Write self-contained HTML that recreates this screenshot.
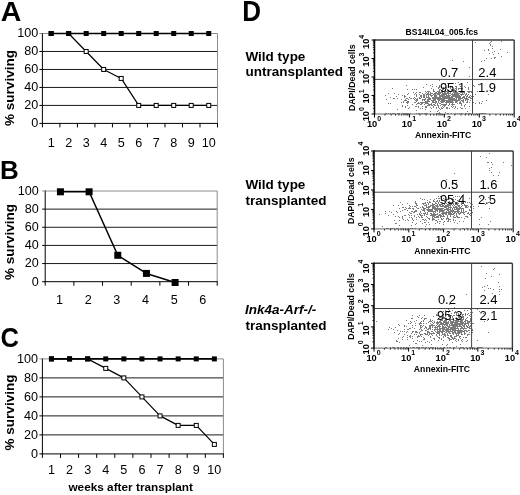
<!DOCTYPE html>
<html><head><meta charset="utf-8"><style>
html,body{margin:0;padding:0;background:#fff;}
body{width:520px;height:495px;overflow:hidden;}
svg{display:block;font-family:"Liberation Sans", sans-serif;filter:blur(0.3px);}
</style></head><body>
<svg width="520" height="495" viewBox="0 0 520 495" font-family='"Liberation Sans", sans-serif'>
<rect width="520" height="495" fill="#fff"/>
<text transform="translate(0.71,21.32) scale(1.098,1.073)" font-size="26" font-weight="bold">A</text>
<text transform="translate(0.06,179.00) scale(1.000,1.017)" font-size="26" font-weight="bold">B</text>
<text transform="translate(0.57,347.20) scale(0.985,1.082)" font-size="26" font-weight="bold">C</text>
<text transform="translate(242.20,21.03) scale(1.000,1.113)" font-size="26" font-weight="bold">D</text>
<line x1="42.40" y1="105.42" x2="217.50" y2="105.42" stroke="#1a1a1a" stroke-width="1" />
<line x1="42.40" y1="87.44" x2="217.50" y2="87.44" stroke="#1a1a1a" stroke-width="1" />
<line x1="42.40" y1="69.46" x2="217.50" y2="69.46" stroke="#1a1a1a" stroke-width="1" />
<line x1="42.40" y1="51.48" x2="217.50" y2="51.48" stroke="#1a1a1a" stroke-width="1" />
<line x1="42.40" y1="33.50" x2="217.50" y2="33.50" stroke="#8c8c8c" stroke-width="1" />
<line x1="217.50" y1="33.50" x2="217.50" y2="123.40" stroke="#8c8c8c" stroke-width="1" />
<line x1="42.40" y1="33.00" x2="42.40" y2="123.90" stroke="#000" stroke-width="1" />
<line x1="39.40" y1="123.40" x2="42.40" y2="123.40" stroke="#000" stroke-width="1" />
<text x="38.20" y="127.30" font-size="12.6" font-weight="normal" font-style="normal" text-anchor="end" fill="#000" >0</text>
<line x1="39.40" y1="105.42" x2="42.40" y2="105.42" stroke="#000" stroke-width="1" />
<text x="38.20" y="109.32" font-size="12.6" font-weight="normal" font-style="normal" text-anchor="end" fill="#000" >20</text>
<line x1="39.40" y1="87.44" x2="42.40" y2="87.44" stroke="#000" stroke-width="1" />
<text x="38.20" y="91.34" font-size="12.6" font-weight="normal" font-style="normal" text-anchor="end" fill="#000" >40</text>
<line x1="39.40" y1="69.46" x2="42.40" y2="69.46" stroke="#000" stroke-width="1" />
<text x="38.20" y="73.36" font-size="12.6" font-weight="normal" font-style="normal" text-anchor="end" fill="#000" >60</text>
<line x1="39.40" y1="51.48" x2="42.40" y2="51.48" stroke="#000" stroke-width="1" />
<text x="38.20" y="55.38" font-size="12.6" font-weight="normal" font-style="normal" text-anchor="end" fill="#000" >80</text>
<line x1="39.40" y1="33.50" x2="42.40" y2="33.50" stroke="#8c8c8c" stroke-width="1" />
<text x="38.20" y="37.40" font-size="12.6" font-weight="normal" font-style="normal" text-anchor="end" fill="#000" >100</text>
<line x1="41.90" y1="123.40" x2="218.00" y2="123.40" stroke="#000" stroke-width="1" />
<line x1="42.40" y1="123.40" x2="42.40" y2="127.40" stroke="#000" stroke-width="1" />
<line x1="59.91" y1="123.40" x2="59.91" y2="127.40" stroke="#000" stroke-width="1" />
<line x1="77.42" y1="123.40" x2="77.42" y2="127.40" stroke="#000" stroke-width="1" />
<line x1="94.93" y1="123.40" x2="94.93" y2="127.40" stroke="#000" stroke-width="1" />
<line x1="112.44" y1="123.40" x2="112.44" y2="127.40" stroke="#000" stroke-width="1" />
<line x1="129.95" y1="123.40" x2="129.95" y2="127.40" stroke="#000" stroke-width="1" />
<line x1="147.46" y1="123.40" x2="147.46" y2="127.40" stroke="#000" stroke-width="1" />
<line x1="164.97" y1="123.40" x2="164.97" y2="127.40" stroke="#000" stroke-width="1" />
<line x1="182.48" y1="123.40" x2="182.48" y2="127.40" stroke="#000" stroke-width="1" />
<line x1="199.99" y1="123.40" x2="199.99" y2="127.40" stroke="#000" stroke-width="1" />
<line x1="217.50" y1="123.40" x2="217.50" y2="127.40" stroke="#000" stroke-width="1" />
<text x="51.16" y="146.70" font-size="12.6" font-weight="normal" font-style="normal" text-anchor="middle" fill="#000" >1</text>
<text x="68.66" y="146.70" font-size="12.6" font-weight="normal" font-style="normal" text-anchor="middle" fill="#000" >2</text>
<text x="86.17" y="146.70" font-size="12.6" font-weight="normal" font-style="normal" text-anchor="middle" fill="#000" >3</text>
<text x="103.69" y="146.70" font-size="12.6" font-weight="normal" font-style="normal" text-anchor="middle" fill="#000" >4</text>
<text x="121.19" y="146.70" font-size="12.6" font-weight="normal" font-style="normal" text-anchor="middle" fill="#000" >5</text>
<text x="138.70" y="146.70" font-size="12.6" font-weight="normal" font-style="normal" text-anchor="middle" fill="#000" >6</text>
<text x="156.21" y="146.70" font-size="12.6" font-weight="normal" font-style="normal" text-anchor="middle" fill="#000" >7</text>
<text x="173.72" y="146.70" font-size="12.6" font-weight="normal" font-style="normal" text-anchor="middle" fill="#000" >8</text>
<text x="191.23" y="146.70" font-size="12.6" font-weight="normal" font-style="normal" text-anchor="middle" fill="#000" >9</text>
<text x="208.74" y="146.70" font-size="12.6" font-weight="normal" font-style="normal" text-anchor="middle" fill="#000" >10</text>
<polyline points="51.16,33.50 68.66,33.50 86.17,51.48 103.69,69.46 121.19,78.45 138.70,105.42 156.21,105.42 173.72,105.42 191.23,105.42 208.74,105.42" fill="none" stroke="#000" stroke-width="1.2" stroke-linejoin="round"/>
<rect x="49.16" y="31.50" width="4" height="4" fill="#fff" stroke="#000" stroke-width="1"/>
<rect x="66.66" y="31.50" width="4" height="4" fill="#fff" stroke="#000" stroke-width="1"/>
<rect x="84.17" y="49.48" width="4" height="4" fill="#fff" stroke="#000" stroke-width="1"/>
<rect x="101.69" y="67.46" width="4" height="4" fill="#fff" stroke="#000" stroke-width="1"/>
<rect x="119.19" y="76.45" width="4" height="4" fill="#fff" stroke="#000" stroke-width="1"/>
<rect x="136.70" y="103.42" width="4" height="4" fill="#fff" stroke="#000" stroke-width="1"/>
<rect x="154.21" y="103.42" width="4" height="4" fill="#fff" stroke="#000" stroke-width="1"/>
<rect x="171.72" y="103.42" width="4" height="4" fill="#fff" stroke="#000" stroke-width="1"/>
<rect x="189.23" y="103.42" width="4" height="4" fill="#fff" stroke="#000" stroke-width="1"/>
<rect x="206.74" y="103.42" width="4" height="4" fill="#fff" stroke="#000" stroke-width="1"/>
<polyline points="51.16,33.50 68.66,33.50 86.17,33.50 103.69,33.50 121.19,33.50 138.70,33.50 156.21,33.50 173.72,33.50 191.23,33.50 208.74,33.50" fill="none" stroke="#000" stroke-width="1.6" stroke-linejoin="round"/>
<rect x="48.66" y="31.00" width="5" height="5" fill="#000"/>
<rect x="66.16" y="31.00" width="5" height="5" fill="#000"/>
<rect x="83.67" y="31.00" width="5" height="5" fill="#000"/>
<rect x="101.19" y="31.00" width="5" height="5" fill="#000"/>
<rect x="118.69" y="31.00" width="5" height="5" fill="#000"/>
<rect x="136.20" y="31.00" width="5" height="5" fill="#000"/>
<rect x="153.71" y="31.00" width="5" height="5" fill="#000"/>
<rect x="171.22" y="31.00" width="5" height="5" fill="#000"/>
<rect x="188.73" y="31.00" width="5" height="5" fill="#000"/>
<rect x="206.24" y="31.00" width="5" height="5" fill="#000"/>
<text transform="translate(13.8,88) rotate(-90)" font-size="13.5" font-weight="bold" text-anchor="middle">% surviving</text>
<line x1="45.20" y1="263.56" x2="217.20" y2="263.56" stroke="#1a1a1a" stroke-width="1" />
<line x1="45.20" y1="245.42" x2="217.20" y2="245.42" stroke="#1a1a1a" stroke-width="1" />
<line x1="45.20" y1="227.28" x2="217.20" y2="227.28" stroke="#1a1a1a" stroke-width="1" />
<line x1="45.20" y1="209.14" x2="217.20" y2="209.14" stroke="#1a1a1a" stroke-width="1" />
<line x1="45.20" y1="191.00" x2="217.20" y2="191.00" stroke="#8c8c8c" stroke-width="1" />
<line x1="217.20" y1="191.00" x2="217.20" y2="281.70" stroke="#8c8c8c" stroke-width="1" />
<line x1="45.20" y1="190.50" x2="45.20" y2="282.20" stroke="#000" stroke-width="1" />
<line x1="42.20" y1="281.70" x2="45.20" y2="281.70" stroke="#000" stroke-width="1" />
<text x="38.80" y="285.60" font-size="12.6" font-weight="normal" font-style="normal" text-anchor="end" fill="#000" >0</text>
<line x1="42.20" y1="263.56" x2="45.20" y2="263.56" stroke="#000" stroke-width="1" />
<text x="38.80" y="267.46" font-size="12.6" font-weight="normal" font-style="normal" text-anchor="end" fill="#000" >20</text>
<line x1="42.20" y1="245.42" x2="45.20" y2="245.42" stroke="#000" stroke-width="1" />
<text x="38.80" y="249.32" font-size="12.6" font-weight="normal" font-style="normal" text-anchor="end" fill="#000" >40</text>
<line x1="42.20" y1="227.28" x2="45.20" y2="227.28" stroke="#000" stroke-width="1" />
<text x="38.80" y="231.18" font-size="12.6" font-weight="normal" font-style="normal" text-anchor="end" fill="#000" >60</text>
<line x1="42.20" y1="209.14" x2="45.20" y2="209.14" stroke="#000" stroke-width="1" />
<text x="38.80" y="213.04" font-size="12.6" font-weight="normal" font-style="normal" text-anchor="end" fill="#000" >80</text>
<line x1="42.20" y1="191.00" x2="45.20" y2="191.00" stroke="#8c8c8c" stroke-width="1" />
<text x="38.80" y="194.90" font-size="12.6" font-weight="normal" font-style="normal" text-anchor="end" fill="#000" >100</text>
<line x1="44.70" y1="281.70" x2="217.70" y2="281.70" stroke="#000" stroke-width="1" />
<line x1="45.20" y1="281.70" x2="45.20" y2="285.70" stroke="#000" stroke-width="1" />
<line x1="73.87" y1="281.70" x2="73.87" y2="285.70" stroke="#000" stroke-width="1" />
<line x1="102.53" y1="281.70" x2="102.53" y2="285.70" stroke="#000" stroke-width="1" />
<line x1="131.20" y1="281.70" x2="131.20" y2="285.70" stroke="#000" stroke-width="1" />
<line x1="159.87" y1="281.70" x2="159.87" y2="285.70" stroke="#000" stroke-width="1" />
<line x1="188.53" y1="281.70" x2="188.53" y2="285.70" stroke="#000" stroke-width="1" />
<line x1="217.20" y1="281.70" x2="217.20" y2="285.70" stroke="#000" stroke-width="1" />
<text x="59.53" y="303.90" font-size="12.6" font-weight="normal" font-style="normal" text-anchor="middle" fill="#000" >1</text>
<text x="88.20" y="303.90" font-size="12.6" font-weight="normal" font-style="normal" text-anchor="middle" fill="#000" >2</text>
<text x="116.87" y="303.90" font-size="12.6" font-weight="normal" font-style="normal" text-anchor="middle" fill="#000" >3</text>
<text x="145.53" y="303.90" font-size="12.6" font-weight="normal" font-style="normal" text-anchor="middle" fill="#000" >4</text>
<text x="174.20" y="303.90" font-size="12.6" font-weight="normal" font-style="normal" text-anchor="middle" fill="#000" >5</text>
<text x="202.87" y="303.90" font-size="12.6" font-weight="normal" font-style="normal" text-anchor="middle" fill="#000" >6</text>
<polyline points="60.43,191.80 89.10,191.80 117.77,255.29 146.43,273.43 175.10,282.50" fill="none" stroke="#000" stroke-width="1.5" stroke-linejoin="round"/>
<rect x="56.93" y="188.30" width="7" height="7" fill="#000"/>
<rect x="85.60" y="188.30" width="7" height="7" fill="#000"/>
<rect x="114.27" y="251.79" width="7" height="7" fill="#000"/>
<rect x="142.93" y="269.93" width="7" height="7" fill="#000"/>
<rect x="171.60" y="279.00" width="7" height="7" fill="#000"/>
<text transform="translate(13.8,242) rotate(-90)" font-size="13.5" font-weight="bold" text-anchor="middle">% surviving</text>
<line x1="42.40" y1="434.90" x2="223.40" y2="434.90" stroke="#1a1a1a" stroke-width="1" />
<line x1="42.40" y1="415.90" x2="223.40" y2="415.90" stroke="#1a1a1a" stroke-width="1" />
<line x1="42.40" y1="396.90" x2="223.40" y2="396.90" stroke="#1a1a1a" stroke-width="1" />
<line x1="42.40" y1="377.90" x2="223.40" y2="377.90" stroke="#1a1a1a" stroke-width="1" />
<line x1="42.40" y1="358.90" x2="223.40" y2="358.90" stroke="#8c8c8c" stroke-width="1" />
<line x1="223.40" y1="358.90" x2="223.40" y2="453.90" stroke="#8c8c8c" stroke-width="1" />
<line x1="42.40" y1="358.40" x2="42.40" y2="454.40" stroke="#000" stroke-width="1" />
<line x1="39.40" y1="453.90" x2="42.40" y2="453.90" stroke="#000" stroke-width="1" />
<text x="37.90" y="457.80" font-size="12.6" font-weight="normal" font-style="normal" text-anchor="end" fill="#000" >0</text>
<line x1="39.40" y1="434.90" x2="42.40" y2="434.90" stroke="#000" stroke-width="1" />
<text x="37.90" y="438.80" font-size="12.6" font-weight="normal" font-style="normal" text-anchor="end" fill="#000" >20</text>
<line x1="39.40" y1="415.90" x2="42.40" y2="415.90" stroke="#000" stroke-width="1" />
<text x="37.90" y="419.80" font-size="12.6" font-weight="normal" font-style="normal" text-anchor="end" fill="#000" >40</text>
<line x1="39.40" y1="396.90" x2="42.40" y2="396.90" stroke="#000" stroke-width="1" />
<text x="37.90" y="400.80" font-size="12.6" font-weight="normal" font-style="normal" text-anchor="end" fill="#000" >60</text>
<line x1="39.40" y1="377.90" x2="42.40" y2="377.90" stroke="#000" stroke-width="1" />
<text x="37.90" y="381.80" font-size="12.6" font-weight="normal" font-style="normal" text-anchor="end" fill="#000" >80</text>
<line x1="39.40" y1="358.90" x2="42.40" y2="358.90" stroke="#8c8c8c" stroke-width="1" />
<text x="37.90" y="362.80" font-size="12.6" font-weight="normal" font-style="normal" text-anchor="end" fill="#000" >100</text>
<line x1="41.90" y1="453.90" x2="223.90" y2="453.90" stroke="#000" stroke-width="1" />
<line x1="42.40" y1="453.90" x2="42.40" y2="457.90" stroke="#000" stroke-width="1" />
<line x1="60.50" y1="453.90" x2="60.50" y2="457.90" stroke="#000" stroke-width="1" />
<line x1="78.60" y1="453.90" x2="78.60" y2="457.90" stroke="#000" stroke-width="1" />
<line x1="96.70" y1="453.90" x2="96.70" y2="457.90" stroke="#000" stroke-width="1" />
<line x1="114.80" y1="453.90" x2="114.80" y2="457.90" stroke="#000" stroke-width="1" />
<line x1="132.90" y1="453.90" x2="132.90" y2="457.90" stroke="#000" stroke-width="1" />
<line x1="151.00" y1="453.90" x2="151.00" y2="457.90" stroke="#000" stroke-width="1" />
<line x1="169.10" y1="453.90" x2="169.10" y2="457.90" stroke="#000" stroke-width="1" />
<line x1="187.20" y1="453.90" x2="187.20" y2="457.90" stroke="#000" stroke-width="1" />
<line x1="205.30" y1="453.90" x2="205.30" y2="457.90" stroke="#000" stroke-width="1" />
<line x1="223.40" y1="453.90" x2="223.40" y2="457.90" stroke="#000" stroke-width="1" />
<text x="51.45" y="474.00" font-size="12.6" font-weight="normal" font-style="normal" text-anchor="middle" fill="#000" >1</text>
<text x="69.55" y="474.00" font-size="12.6" font-weight="normal" font-style="normal" text-anchor="middle" fill="#000" >2</text>
<text x="87.65" y="474.00" font-size="12.6" font-weight="normal" font-style="normal" text-anchor="middle" fill="#000" >3</text>
<text x="105.75" y="474.00" font-size="12.6" font-weight="normal" font-style="normal" text-anchor="middle" fill="#000" >4</text>
<text x="123.85" y="474.00" font-size="12.6" font-weight="normal" font-style="normal" text-anchor="middle" fill="#000" >5</text>
<text x="141.95" y="474.00" font-size="12.6" font-weight="normal" font-style="normal" text-anchor="middle" fill="#000" >6</text>
<text x="160.05" y="474.00" font-size="12.6" font-weight="normal" font-style="normal" text-anchor="middle" fill="#000" >7</text>
<text x="178.15" y="474.00" font-size="12.6" font-weight="normal" font-style="normal" text-anchor="middle" fill="#000" >8</text>
<text x="196.25" y="474.00" font-size="12.6" font-weight="normal" font-style="normal" text-anchor="middle" fill="#000" >9</text>
<text x="214.35" y="474.00" font-size="12.6" font-weight="normal" font-style="normal" text-anchor="middle" fill="#000" >10</text>
<polyline points="51.45,358.90 69.55,358.90 87.65,358.90 105.75,368.40 123.85,377.90 141.95,396.90 160.05,415.90 178.15,425.40 196.25,425.40 214.35,444.40" fill="none" stroke="#000" stroke-width="1.2" stroke-linejoin="round"/>
<rect x="49.45" y="356.90" width="4" height="4" fill="#fff" stroke="#000" stroke-width="1"/>
<rect x="67.55" y="356.90" width="4" height="4" fill="#fff" stroke="#000" stroke-width="1"/>
<rect x="85.65" y="356.90" width="4" height="4" fill="#fff" stroke="#000" stroke-width="1"/>
<rect x="103.75" y="366.40" width="4" height="4" fill="#fff" stroke="#000" stroke-width="1"/>
<rect x="121.85" y="375.90" width="4" height="4" fill="#fff" stroke="#000" stroke-width="1"/>
<rect x="139.95" y="394.90" width="4" height="4" fill="#fff" stroke="#000" stroke-width="1"/>
<rect x="158.05" y="413.90" width="4" height="4" fill="#fff" stroke="#000" stroke-width="1"/>
<rect x="176.15" y="423.40" width="4" height="4" fill="#fff" stroke="#000" stroke-width="1"/>
<rect x="194.25" y="423.40" width="4" height="4" fill="#fff" stroke="#000" stroke-width="1"/>
<rect x="212.35" y="442.40" width="4" height="4" fill="#fff" stroke="#000" stroke-width="1"/>
<polyline points="51.45,358.90 69.55,358.90 87.65,358.90 105.75,358.90 123.85,358.90 141.95,358.90 160.05,358.90 178.15,358.90 196.25,358.90 214.35,358.90" fill="none" stroke="#000" stroke-width="1.6" stroke-linejoin="round"/>
<rect x="48.95" y="356.40" width="5" height="5" fill="#000"/>
<rect x="67.05" y="356.40" width="5" height="5" fill="#000"/>
<rect x="85.15" y="356.40" width="5" height="5" fill="#000"/>
<rect x="103.25" y="356.40" width="5" height="5" fill="#000"/>
<rect x="121.35" y="356.40" width="5" height="5" fill="#000"/>
<rect x="139.45" y="356.40" width="5" height="5" fill="#000"/>
<rect x="157.55" y="356.40" width="5" height="5" fill="#000"/>
<rect x="175.65" y="356.40" width="5" height="5" fill="#000"/>
<rect x="193.75" y="356.40" width="5" height="5" fill="#000"/>
<rect x="211.85" y="356.40" width="5" height="5" fill="#000"/>
<text transform="translate(13.8,412.5) rotate(-90)" font-size="13.5" font-weight="bold" text-anchor="middle">% surviving</text>
<text x="130.70" y="490.60" font-size="11.8" font-weight="bold" font-style="normal" text-anchor="middle" fill="#000" >weeks after transplant</text>
<text x="245.50" y="61.20" font-size="13.5" font-weight="bold" font-style="normal" text-anchor="start" fill="#000" >Wild type</text>
<text x="245.50" y="76.00" font-size="13.5" font-weight="bold" font-style="normal" text-anchor="start" fill="#000" >untransplanted</text>
<text x="245.50" y="189.20" font-size="13.5" font-weight="bold" font-style="normal" text-anchor="start" fill="#000" >Wild type</text>
<text x="245.50" y="205.00" font-size="13.5" font-weight="bold" font-style="normal" text-anchor="start" fill="#000" >transplanted</text>
<text x="245.00" y="314.00" font-size="13.5" font-weight="bold" font-style="italic" text-anchor="start" fill="#000" >Ink4a-Arf-/-</text>
<text x="245.50" y="329.90" font-size="13.5" font-weight="bold" font-style="normal" text-anchor="start" fill="#000" >transplanted</text>
<path d="M385 95h1v1h-1zM385 113h1v1h-1zM386 99h1v1h-1zM386 113h1v1h-1zM388 93h1v1h-1zM388 103h1v1h-1zM388 113h1v1h-1zM390 97h1v1h-1zM390 103h1v1h-1zM390 113h1v1h-1zM392 88h1v1h-1zM392 113h1v1h-1zM393 98h1v1h-1zM393 113h1v1h-1zM394 93h1v1h-1zM394 98h1v1h-1zM394 113h1v1h-1zM396 96h1v1h-1zM397 98h1v1h-1zM397 109h1v1h-1zM397 113h1v1h-1zM398 94h1v1h-1zM398 113h1v1h-1zM399 113h1v1h-1zM401 99h1v1h-1zM401 102h1v1h-1zM402 95h1v1h-1zM402 105h1v1h-1zM402 106h1v1h-1zM402 113h1v1h-1zM403 101h1v1h-1zM403 102h1v1h-1zM403 113h1v1h-1zM404 95h1v1h-1zM404 96h1v1h-1zM404 97h1v1h-1zM404 100h1v1h-1zM404 113h1v1h-1zM405 96h1v1h-1zM405 99h1v1h-1zM405 100h1v1h-1zM405 106h1v1h-1zM405 107h1v1h-1zM405 113h1v1h-1zM406 85h1v1h-1zM406 98h1v1h-1zM406 100h1v1h-1zM406 102h1v1h-1zM406 113h1v1h-1zM407 89h1v1h-1zM407 94h1v1h-1zM407 98h1v1h-1zM407 101h1v1h-1zM407 102h1v1h-1zM407 103h1v1h-1zM407 105h1v1h-1zM407 113h1v1h-1zM408 93h1v1h-1zM408 99h1v1h-1zM408 101h1v1h-1zM408 102h1v1h-1zM408 108h1v1h-1zM408 113h1v1h-1zM409 97h1v1h-1zM409 107h1v1h-1zM410 98h1v1h-1zM410 113h1v1h-1zM411 98h1v1h-1zM412 89h1v1h-1zM412 104h1v1h-1zM413 92h1v1h-1zM413 98h1v1h-1zM414 89h1v1h-1zM414 94h1v1h-1zM414 97h1v1h-1zM414 99h1v1h-1zM414 102h1v1h-1zM415 93h1v1h-1zM415 98h1v1h-1zM415 100h1v1h-1zM415 102h1v1h-1zM415 106h1v1h-1zM416 89h1v1h-1zM416 92h1v1h-1zM416 94h1v1h-1zM416 95h1v1h-1zM416 96h1v1h-1zM416 99h1v1h-1zM416 100h1v1h-1zM416 101h1v1h-1zM416 104h1v1h-1zM416 106h1v1h-1zM416 110h1v1h-1zM416 113h1v1h-1zM417 98h1v1h-1zM417 99h1v1h-1zM417 100h1v1h-1zM417 103h1v1h-1zM418 102h1v1h-1zM418 103h1v1h-1zM418 106h1v1h-1zM418 107h1v1h-1zM418 113h1v1h-1zM419 92h1v1h-1zM419 94h1v1h-1zM419 97h1v1h-1zM419 98h1v1h-1zM419 103h1v1h-1zM419 113h1v1h-1zM420 92h1v1h-1zM420 95h1v1h-1zM420 96h1v1h-1zM420 98h1v1h-1zM420 102h1v1h-1zM420 104h1v1h-1zM420 108h1v1h-1zM421 95h1v1h-1zM421 96h1v1h-1zM421 97h1v1h-1zM421 102h1v1h-1zM421 103h1v1h-1zM421 104h1v1h-1zM421 113h1v1h-1zM422 93h1v1h-1zM422 99h1v1h-1zM422 100h1v1h-1zM422 102h1v1h-1zM422 103h1v1h-1zM422 106h1v1h-1zM422 108h1v1h-1zM422 113h1v1h-1zM423 87h1v1h-1zM423 94h1v1h-1zM423 95h1v1h-1zM423 96h1v1h-1zM423 97h1v1h-1zM423 99h1v1h-1zM423 102h1v1h-1zM424 94h1v1h-1zM424 95h1v1h-1zM424 96h1v1h-1zM424 97h1v1h-1zM424 99h1v1h-1zM424 100h1v1h-1zM424 102h1v1h-1zM424 104h1v1h-1zM424 113h1v1h-1zM425 91h1v1h-1zM425 93h1v1h-1zM425 98h1v1h-1zM425 99h1v1h-1zM425 101h1v1h-1zM425 102h1v1h-1zM425 103h1v1h-1zM425 106h1v1h-1zM425 107h1v1h-1zM425 109h1v1h-1zM425 113h1v1h-1zM426 84h1v1h-1zM426 92h1v1h-1zM426 94h1v1h-1zM426 95h1v1h-1zM426 96h1v1h-1zM426 97h1v1h-1zM426 101h1v1h-1zM426 102h1v1h-1zM426 103h1v1h-1zM426 106h1v1h-1zM426 107h1v1h-1zM426 113h1v1h-1zM427 91h1v1h-1zM427 93h1v1h-1zM427 94h1v1h-1zM427 97h1v1h-1zM427 99h1v1h-1zM427 100h1v1h-1zM427 101h1v1h-1zM427 102h1v1h-1zM427 103h1v1h-1zM427 105h1v1h-1zM427 113h1v1h-1zM428 91h1v1h-1zM428 92h1v1h-1zM428 93h1v1h-1zM428 94h1v1h-1zM428 95h1v1h-1zM428 96h1v1h-1zM428 97h1v1h-1zM428 98h1v1h-1zM428 99h1v1h-1zM428 100h1v1h-1zM428 101h1v1h-1zM428 103h1v1h-1zM428 104h1v1h-1zM428 105h1v1h-1zM429 91h1v1h-1zM429 94h1v1h-1zM429 97h1v1h-1zM429 98h1v1h-1zM429 99h1v1h-1zM429 101h1v1h-1zM429 104h1v1h-1zM429 105h1v1h-1zM430 85h1v1h-1zM430 92h1v1h-1zM430 93h1v1h-1zM430 94h1v1h-1zM430 95h1v1h-1zM430 98h1v1h-1zM430 99h1v1h-1zM430 104h1v1h-1zM430 107h1v1h-1zM430 111h1v1h-1zM431 88h1v1h-1zM431 93h1v1h-1zM431 95h1v1h-1zM431 96h1v1h-1zM431 100h1v1h-1zM431 103h1v1h-1zM431 104h1v1h-1zM431 105h1v1h-1zM431 108h1v1h-1zM432 84h1v1h-1zM432 86h1v1h-1zM432 93h1v1h-1zM432 95h1v1h-1zM432 97h1v1h-1zM432 98h1v1h-1zM432 100h1v1h-1zM432 101h1v1h-1zM432 102h1v1h-1zM432 105h1v1h-1zM433 89h1v1h-1zM433 90h1v1h-1zM433 91h1v1h-1zM433 94h1v1h-1zM433 97h1v1h-1zM433 98h1v1h-1zM433 99h1v1h-1zM433 100h1v1h-1zM433 101h1v1h-1zM433 102h1v1h-1zM433 104h1v1h-1zM433 106h1v1h-1zM433 107h1v1h-1zM434 91h1v1h-1zM434 93h1v1h-1zM434 94h1v1h-1zM434 95h1v1h-1zM434 96h1v1h-1zM434 97h1v1h-1zM434 98h1v1h-1zM434 99h1v1h-1zM434 100h1v1h-1zM434 102h1v1h-1zM434 104h1v1h-1zM434 105h1v1h-1zM435 92h1v1h-1zM435 93h1v1h-1zM435 94h1v1h-1zM435 95h1v1h-1zM435 96h1v1h-1zM435 97h1v1h-1zM435 98h1v1h-1zM435 99h1v1h-1zM435 100h1v1h-1zM435 101h1v1h-1zM435 102h1v1h-1zM435 103h1v1h-1zM435 105h1v1h-1zM436 86h1v1h-1zM436 92h1v1h-1zM436 93h1v1h-1zM436 95h1v1h-1zM436 96h1v1h-1zM436 97h1v1h-1zM436 98h1v1h-1zM436 101h1v1h-1zM436 102h1v1h-1zM436 107h1v1h-1zM436 108h1v1h-1zM436 113h1v1h-1zM437 91h1v1h-1zM437 93h1v1h-1zM437 94h1v1h-1zM437 97h1v1h-1zM437 98h1v1h-1zM437 99h1v1h-1zM437 103h1v1h-1zM437 104h1v1h-1zM437 105h1v1h-1zM437 111h1v1h-1zM437 113h1v1h-1zM438 87h1v1h-1zM438 88h1v1h-1zM438 91h1v1h-1zM438 92h1v1h-1zM438 93h1v1h-1zM438 94h1v1h-1zM438 97h1v1h-1zM438 98h1v1h-1zM438 99h1v1h-1zM438 100h1v1h-1zM438 101h1v1h-1zM438 102h1v1h-1zM438 105h1v1h-1zM438 106h1v1h-1zM438 107h1v1h-1zM438 110h1v1h-1zM438 113h1v1h-1zM439 80h1v1h-1zM439 85h1v1h-1zM439 86h1v1h-1zM439 87h1v1h-1zM439 89h1v1h-1zM439 90h1v1h-1zM439 91h1v1h-1zM439 92h1v1h-1zM439 93h1v1h-1zM439 94h1v1h-1zM439 95h1v1h-1zM439 96h1v1h-1zM439 97h1v1h-1zM439 98h1v1h-1zM439 99h1v1h-1zM439 100h1v1h-1zM439 103h1v1h-1zM439 108h1v1h-1zM439 112h1v1h-1zM439 113h1v1h-1zM440 89h1v1h-1zM440 92h1v1h-1zM440 93h1v1h-1zM440 95h1v1h-1zM440 96h1v1h-1zM440 97h1v1h-1zM440 98h1v1h-1zM440 99h1v1h-1zM440 101h1v1h-1zM440 103h1v1h-1zM440 105h1v1h-1zM440 109h1v1h-1zM440 113h1v1h-1zM441 86h1v1h-1zM441 87h1v1h-1zM441 90h1v1h-1zM441 91h1v1h-1zM441 92h1v1h-1zM441 94h1v1h-1zM441 95h1v1h-1zM441 96h1v1h-1zM441 98h1v1h-1zM441 99h1v1h-1zM441 100h1v1h-1zM441 101h1v1h-1zM441 102h1v1h-1zM441 104h1v1h-1zM441 107h1v1h-1zM441 108h1v1h-1zM442 89h1v1h-1zM442 90h1v1h-1zM442 91h1v1h-1zM442 92h1v1h-1zM442 93h1v1h-1zM442 94h1v1h-1zM442 95h1v1h-1zM442 96h1v1h-1zM442 97h1v1h-1zM442 98h1v1h-1zM442 99h1v1h-1zM442 100h1v1h-1zM442 101h1v1h-1zM442 102h1v1h-1zM442 104h1v1h-1zM442 106h1v1h-1zM442 108h1v1h-1zM443 87h1v1h-1zM443 88h1v1h-1zM443 89h1v1h-1zM443 91h1v1h-1zM443 93h1v1h-1zM443 94h1v1h-1zM443 95h1v1h-1zM443 96h1v1h-1zM443 97h1v1h-1zM443 98h1v1h-1zM443 99h1v1h-1zM443 100h1v1h-1zM443 101h1v1h-1zM443 102h1v1h-1zM443 104h1v1h-1zM443 105h1v1h-1zM443 107h1v1h-1zM444 88h1v1h-1zM444 91h1v1h-1zM444 92h1v1h-1zM444 93h1v1h-1zM444 94h1v1h-1zM444 95h1v1h-1zM444 96h1v1h-1zM444 97h1v1h-1zM444 98h1v1h-1zM444 99h1v1h-1zM444 100h1v1h-1zM444 101h1v1h-1zM444 104h1v1h-1zM444 105h1v1h-1zM444 106h1v1h-1zM445 83h1v1h-1zM445 89h1v1h-1zM445 90h1v1h-1zM445 91h1v1h-1zM445 92h1v1h-1zM445 93h1v1h-1zM445 94h1v1h-1zM445 96h1v1h-1zM445 97h1v1h-1zM445 98h1v1h-1zM445 100h1v1h-1zM445 102h1v1h-1zM445 104h1v1h-1zM445 105h1v1h-1zM445 112h1v1h-1zM446 91h1v1h-1zM446 93h1v1h-1zM446 94h1v1h-1zM446 95h1v1h-1zM446 96h1v1h-1zM446 97h1v1h-1zM446 98h1v1h-1zM446 100h1v1h-1zM446 101h1v1h-1zM446 102h1v1h-1zM446 103h1v1h-1zM446 104h1v1h-1zM446 107h1v1h-1zM446 108h1v1h-1zM447 83h1v1h-1zM447 89h1v1h-1zM447 90h1v1h-1zM447 91h1v1h-1zM447 92h1v1h-1zM447 93h1v1h-1zM447 95h1v1h-1zM447 96h1v1h-1zM447 97h1v1h-1zM447 98h1v1h-1zM447 100h1v1h-1zM447 101h1v1h-1zM447 102h1v1h-1zM447 107h1v1h-1zM447 108h1v1h-1zM447 113h1v1h-1zM448 87h1v1h-1zM448 90h1v1h-1zM448 91h1v1h-1zM448 92h1v1h-1zM448 93h1v1h-1zM448 94h1v1h-1zM448 95h1v1h-1zM448 96h1v1h-1zM448 97h1v1h-1zM448 98h1v1h-1zM448 99h1v1h-1zM448 100h1v1h-1zM448 101h1v1h-1zM448 102h1v1h-1zM448 105h1v1h-1zM448 113h1v1h-1zM449 91h1v1h-1zM449 93h1v1h-1zM449 95h1v1h-1zM449 96h1v1h-1zM449 97h1v1h-1zM449 98h1v1h-1zM449 99h1v1h-1zM449 100h1v1h-1zM449 101h1v1h-1zM449 102h1v1h-1zM449 103h1v1h-1zM449 104h1v1h-1zM449 108h1v1h-1zM450 87h1v1h-1zM450 88h1v1h-1zM450 91h1v1h-1zM450 92h1v1h-1zM450 93h1v1h-1zM450 95h1v1h-1zM450 97h1v1h-1zM450 98h1v1h-1zM450 99h1v1h-1zM450 100h1v1h-1zM450 101h1v1h-1zM450 102h1v1h-1zM451 89h1v1h-1zM451 90h1v1h-1zM451 91h1v1h-1zM451 94h1v1h-1zM451 96h1v1h-1zM451 97h1v1h-1zM451 98h1v1h-1zM451 99h1v1h-1zM451 100h1v1h-1zM451 101h1v1h-1zM451 102h1v1h-1zM451 104h1v1h-1zM451 106h1v1h-1zM451 113h1v1h-1zM452 60h1v1h-1zM452 86h1v1h-1zM452 89h1v1h-1zM452 90h1v1h-1zM452 93h1v1h-1zM452 94h1v1h-1zM452 95h1v1h-1zM452 96h1v1h-1zM452 97h1v1h-1zM452 98h1v1h-1zM452 99h1v1h-1zM452 100h1v1h-1zM452 101h1v1h-1zM452 102h1v1h-1zM452 103h1v1h-1zM452 104h1v1h-1zM452 105h1v1h-1zM452 107h1v1h-1zM453 83h1v1h-1zM453 90h1v1h-1zM453 91h1v1h-1zM453 92h1v1h-1zM453 94h1v1h-1zM453 95h1v1h-1zM453 96h1v1h-1zM453 98h1v1h-1zM453 99h1v1h-1zM453 100h1v1h-1zM453 102h1v1h-1zM453 104h1v1h-1zM453 106h1v1h-1zM454 68h1v1h-1zM454 89h1v1h-1zM454 90h1v1h-1zM454 91h1v1h-1zM454 92h1v1h-1zM454 93h1v1h-1zM454 94h1v1h-1zM454 95h1v1h-1zM454 96h1v1h-1zM454 98h1v1h-1zM454 99h1v1h-1zM454 100h1v1h-1zM454 104h1v1h-1zM454 108h1v1h-1zM455 83h1v1h-1zM455 86h1v1h-1zM455 88h1v1h-1zM455 90h1v1h-1zM455 91h1v1h-1zM455 92h1v1h-1zM455 93h1v1h-1zM455 94h1v1h-1zM455 95h1v1h-1zM455 96h1v1h-1zM455 97h1v1h-1zM455 99h1v1h-1zM455 100h1v1h-1zM455 101h1v1h-1zM455 102h1v1h-1zM455 106h1v1h-1zM455 107h1v1h-1zM455 113h1v1h-1zM456 69h1v1h-1zM456 86h1v1h-1zM456 87h1v1h-1zM456 88h1v1h-1zM456 89h1v1h-1zM456 92h1v1h-1zM456 93h1v1h-1zM456 94h1v1h-1zM456 95h1v1h-1zM456 96h1v1h-1zM456 97h1v1h-1zM456 98h1v1h-1zM456 99h1v1h-1zM456 100h1v1h-1zM456 101h1v1h-1zM456 102h1v1h-1zM457 92h1v1h-1zM457 93h1v1h-1zM457 94h1v1h-1zM457 95h1v1h-1zM457 96h1v1h-1zM457 97h1v1h-1zM457 100h1v1h-1zM457 101h1v1h-1zM457 103h1v1h-1zM457 108h1v1h-1zM457 113h1v1h-1zM458 82h1v1h-1zM458 88h1v1h-1zM458 89h1v1h-1zM458 91h1v1h-1zM458 93h1v1h-1zM458 94h1v1h-1zM458 95h1v1h-1zM458 96h1v1h-1zM458 97h1v1h-1zM458 98h1v1h-1zM458 99h1v1h-1zM458 100h1v1h-1zM459 88h1v1h-1zM459 93h1v1h-1zM459 95h1v1h-1zM459 96h1v1h-1zM459 97h1v1h-1zM459 98h1v1h-1zM459 99h1v1h-1zM459 100h1v1h-1zM459 102h1v1h-1zM459 103h1v1h-1zM459 113h1v1h-1zM460 86h1v1h-1zM460 88h1v1h-1zM460 92h1v1h-1zM460 94h1v1h-1zM460 96h1v1h-1zM460 97h1v1h-1zM460 98h1v1h-1zM460 99h1v1h-1zM460 101h1v1h-1zM460 102h1v1h-1zM460 103h1v1h-1zM460 107h1v1h-1zM461 88h1v1h-1zM461 89h1v1h-1zM461 92h1v1h-1zM461 94h1v1h-1zM461 95h1v1h-1zM461 98h1v1h-1zM461 100h1v1h-1zM461 103h1v1h-1zM461 104h1v1h-1zM461 105h1v1h-1zM461 108h1v1h-1zM461 113h1v1h-1zM462 88h1v1h-1zM462 92h1v1h-1zM462 93h1v1h-1zM462 94h1v1h-1zM462 97h1v1h-1zM462 98h1v1h-1zM462 100h1v1h-1zM462 101h1v1h-1zM462 108h1v1h-1zM462 113h1v1h-1zM463 61h1v1h-1zM463 91h1v1h-1zM463 92h1v1h-1zM463 94h1v1h-1zM463 96h1v1h-1zM463 97h1v1h-1zM463 99h1v1h-1zM463 100h1v1h-1zM463 101h1v1h-1zM463 102h1v1h-1zM464 86h1v1h-1zM464 91h1v1h-1zM464 92h1v1h-1zM464 93h1v1h-1zM464 96h1v1h-1zM464 97h1v1h-1zM464 98h1v1h-1zM464 105h1v1h-1zM464 106h1v1h-1zM465 87h1v1h-1zM465 94h1v1h-1zM465 95h1v1h-1zM465 98h1v1h-1zM465 99h1v1h-1zM465 100h1v1h-1zM465 104h1v1h-1zM465 108h1v1h-1zM465 113h1v1h-1zM466 93h1v1h-1zM466 94h1v1h-1zM466 96h1v1h-1zM466 97h1v1h-1zM466 98h1v1h-1zM466 99h1v1h-1zM466 102h1v1h-1zM466 113h1v1h-1zM467 82h1v1h-1zM467 91h1v1h-1zM467 95h1v1h-1zM467 96h1v1h-1zM467 98h1v1h-1zM467 99h1v1h-1zM467 100h1v1h-1zM467 101h1v1h-1zM467 102h1v1h-1zM467 111h1v1h-1zM468 87h1v1h-1zM468 88h1v1h-1zM468 89h1v1h-1zM468 91h1v1h-1zM468 92h1v1h-1zM468 94h1v1h-1zM468 97h1v1h-1zM468 99h1v1h-1zM468 113h1v1h-1zM469 67h1v1h-1zM469 76h1v1h-1zM469 91h1v1h-1zM469 92h1v1h-1zM469 96h1v1h-1zM469 97h1v1h-1zM469 102h1v1h-1zM469 106h1v1h-1zM469 113h1v1h-1zM470 91h1v1h-1zM470 95h1v1h-1zM470 97h1v1h-1zM470 98h1v1h-1zM470 100h1v1h-1zM470 113h1v1h-1zM471 91h1v1h-1zM471 92h1v1h-1zM471 96h1v1h-1zM471 98h1v1h-1zM472 92h1v1h-1zM472 97h1v1h-1zM472 98h1v1h-1zM472 102h1v1h-1zM473 85h1v1h-1zM473 96h1v1h-1zM473 102h1v1h-1zM474 86h1v1h-1zM475 42h1v1h-1zM475 94h1v1h-1zM475 103h1v1h-1zM476 113h1v1h-1zM477 91h1v1h-1zM478 84h1v1h-1zM479 102h1v1h-1zM479 103h1v1h-1zM479 113h1v1h-1zM480 113h1v1h-1zM481 61h1v1h-1zM481 103h1v1h-1zM481 113h1v1h-1zM482 101h1v1h-1zM482 113h1v1h-1zM483 113h1v1h-1zM484 50h1v1h-1zM484 60h1v1h-1zM484 113h1v1h-1zM485 113h1v1h-1zM486 58h1v1h-1zM486 100h1v1h-1zM488 49h1v1h-1zM488 50h1v1h-1zM488 94h1v1h-1zM489 43h1v1h-1zM489 53h1v1h-1zM490 42h1v1h-1zM490 44h1v1h-1zM490 45h1v1h-1zM491 41h1v1h-1zM491 58h1v1h-1zM492 46h1v1h-1zM492 48h1v1h-1zM492 52h1v1h-1zM493 54h1v1h-1zM494 51h1v1h-1zM494 57h1v1h-1zM494 58h1v1h-1zM495 57h1v1h-1zM498 53h1v1h-1zM500 49h1v1h-1zM501 41h1v1h-1zM501 56h1v1h-1zM507 52h1v1h-1z" fill="#7a7a7a"/>
<line x1="472.50" y1="40.00" x2="472.50" y2="114.00" stroke="#444" stroke-width="1" />
<line x1="374.50" y1="79.40" x2="514.20" y2="79.40" stroke="#444" stroke-width="1" />
<line x1="374.50" y1="114.00" x2="514.20" y2="114.00" stroke="#666" stroke-width="1" />
<line x1="374.50" y1="40.00" x2="514.20" y2="40.00" stroke="#3a3a3a" stroke-width="1.4" />
<line x1="514.20" y1="40.00" x2="514.20" y2="114.00" stroke="#3a3a3a" stroke-width="1.4" />
<line x1="374.50" y1="39.30" x2="374.50" y2="114.50" stroke="#000" stroke-width="1.5" />
<line x1="371.50" y1="114.00" x2="374.50" y2="114.00" stroke="#000" stroke-width="1" />
<line x1="374.50" y1="114.00" x2="374.50" y2="117.50" stroke="#000" stroke-width="1" />
<line x1="372.90" y1="108.43" x2="374.50" y2="108.43" stroke="#000" stroke-width="0.8" />
<line x1="385.01" y1="114.00" x2="385.01" y2="115.60" stroke="#000" stroke-width="0.8" />
<line x1="372.90" y1="105.17" x2="374.50" y2="105.17" stroke="#000" stroke-width="0.8" />
<line x1="391.16" y1="114.00" x2="391.16" y2="115.60" stroke="#000" stroke-width="0.8" />
<line x1="372.90" y1="102.86" x2="374.50" y2="102.86" stroke="#000" stroke-width="0.8" />
<line x1="395.53" y1="114.00" x2="395.53" y2="115.60" stroke="#000" stroke-width="0.8" />
<line x1="372.90" y1="101.07" x2="374.50" y2="101.07" stroke="#000" stroke-width="0.8" />
<line x1="398.91" y1="114.00" x2="398.91" y2="115.60" stroke="#000" stroke-width="0.8" />
<line x1="372.90" y1="99.60" x2="374.50" y2="99.60" stroke="#000" stroke-width="0.8" />
<line x1="401.68" y1="114.00" x2="401.68" y2="115.60" stroke="#000" stroke-width="0.8" />
<line x1="372.90" y1="98.37" x2="374.50" y2="98.37" stroke="#000" stroke-width="0.8" />
<line x1="404.02" y1="114.00" x2="404.02" y2="115.60" stroke="#000" stroke-width="0.8" />
<line x1="372.90" y1="97.29" x2="374.50" y2="97.29" stroke="#000" stroke-width="0.8" />
<line x1="406.04" y1="114.00" x2="406.04" y2="115.60" stroke="#000" stroke-width="0.8" />
<line x1="372.90" y1="96.35" x2="374.50" y2="96.35" stroke="#000" stroke-width="0.8" />
<line x1="407.83" y1="114.00" x2="407.83" y2="115.60" stroke="#000" stroke-width="0.8" />
<line x1="371.50" y1="95.50" x2="374.50" y2="95.50" stroke="#000" stroke-width="1" />
<line x1="409.43" y1="114.00" x2="409.43" y2="117.50" stroke="#000" stroke-width="1" />
<line x1="372.90" y1="89.93" x2="374.50" y2="89.93" stroke="#000" stroke-width="0.8" />
<line x1="419.94" y1="114.00" x2="419.94" y2="115.60" stroke="#000" stroke-width="0.8" />
<line x1="372.90" y1="86.67" x2="374.50" y2="86.67" stroke="#000" stroke-width="0.8" />
<line x1="426.09" y1="114.00" x2="426.09" y2="115.60" stroke="#000" stroke-width="0.8" />
<line x1="372.90" y1="84.36" x2="374.50" y2="84.36" stroke="#000" stroke-width="0.8" />
<line x1="430.45" y1="114.00" x2="430.45" y2="115.60" stroke="#000" stroke-width="0.8" />
<line x1="372.90" y1="82.57" x2="374.50" y2="82.57" stroke="#000" stroke-width="0.8" />
<line x1="433.84" y1="114.00" x2="433.84" y2="115.60" stroke="#000" stroke-width="0.8" />
<line x1="372.90" y1="81.10" x2="374.50" y2="81.10" stroke="#000" stroke-width="0.8" />
<line x1="436.60" y1="114.00" x2="436.60" y2="115.60" stroke="#000" stroke-width="0.8" />
<line x1="372.90" y1="79.87" x2="374.50" y2="79.87" stroke="#000" stroke-width="0.8" />
<line x1="438.94" y1="114.00" x2="438.94" y2="115.60" stroke="#000" stroke-width="0.8" />
<line x1="372.90" y1="78.79" x2="374.50" y2="78.79" stroke="#000" stroke-width="0.8" />
<line x1="440.97" y1="114.00" x2="440.97" y2="115.60" stroke="#000" stroke-width="0.8" />
<line x1="372.90" y1="77.85" x2="374.50" y2="77.85" stroke="#000" stroke-width="0.8" />
<line x1="442.75" y1="114.00" x2="442.75" y2="115.60" stroke="#000" stroke-width="0.8" />
<line x1="371.50" y1="77.00" x2="374.50" y2="77.00" stroke="#000" stroke-width="1" />
<line x1="444.35" y1="114.00" x2="444.35" y2="117.50" stroke="#000" stroke-width="1" />
<line x1="372.90" y1="71.43" x2="374.50" y2="71.43" stroke="#000" stroke-width="0.8" />
<line x1="454.86" y1="114.00" x2="454.86" y2="115.60" stroke="#000" stroke-width="0.8" />
<line x1="372.90" y1="68.17" x2="374.50" y2="68.17" stroke="#000" stroke-width="0.8" />
<line x1="461.01" y1="114.00" x2="461.01" y2="115.60" stroke="#000" stroke-width="0.8" />
<line x1="372.90" y1="65.86" x2="374.50" y2="65.86" stroke="#000" stroke-width="0.8" />
<line x1="465.38" y1="114.00" x2="465.38" y2="115.60" stroke="#000" stroke-width="0.8" />
<line x1="372.90" y1="64.07" x2="374.50" y2="64.07" stroke="#000" stroke-width="0.8" />
<line x1="468.76" y1="114.00" x2="468.76" y2="115.60" stroke="#000" stroke-width="0.8" />
<line x1="372.90" y1="62.60" x2="374.50" y2="62.60" stroke="#000" stroke-width="0.8" />
<line x1="471.53" y1="114.00" x2="471.53" y2="115.60" stroke="#000" stroke-width="0.8" />
<line x1="372.90" y1="61.37" x2="374.50" y2="61.37" stroke="#000" stroke-width="0.8" />
<line x1="473.87" y1="114.00" x2="473.87" y2="115.60" stroke="#000" stroke-width="0.8" />
<line x1="372.90" y1="60.29" x2="374.50" y2="60.29" stroke="#000" stroke-width="0.8" />
<line x1="475.89" y1="114.00" x2="475.89" y2="115.60" stroke="#000" stroke-width="0.8" />
<line x1="372.90" y1="59.35" x2="374.50" y2="59.35" stroke="#000" stroke-width="0.8" />
<line x1="477.68" y1="114.00" x2="477.68" y2="115.60" stroke="#000" stroke-width="0.8" />
<line x1="371.50" y1="58.50" x2="374.50" y2="58.50" stroke="#000" stroke-width="1" />
<line x1="479.28" y1="114.00" x2="479.28" y2="117.50" stroke="#000" stroke-width="1" />
<line x1="372.90" y1="52.93" x2="374.50" y2="52.93" stroke="#000" stroke-width="0.8" />
<line x1="489.79" y1="114.00" x2="489.79" y2="115.60" stroke="#000" stroke-width="0.8" />
<line x1="372.90" y1="49.67" x2="374.50" y2="49.67" stroke="#000" stroke-width="0.8" />
<line x1="495.94" y1="114.00" x2="495.94" y2="115.60" stroke="#000" stroke-width="0.8" />
<line x1="372.90" y1="47.36" x2="374.50" y2="47.36" stroke="#000" stroke-width="0.8" />
<line x1="500.30" y1="114.00" x2="500.30" y2="115.60" stroke="#000" stroke-width="0.8" />
<line x1="372.90" y1="45.57" x2="374.50" y2="45.57" stroke="#000" stroke-width="0.8" />
<line x1="503.69" y1="114.00" x2="503.69" y2="115.60" stroke="#000" stroke-width="0.8" />
<line x1="372.90" y1="44.10" x2="374.50" y2="44.10" stroke="#000" stroke-width="0.8" />
<line x1="506.45" y1="114.00" x2="506.45" y2="115.60" stroke="#000" stroke-width="0.8" />
<line x1="372.90" y1="42.87" x2="374.50" y2="42.87" stroke="#000" stroke-width="0.8" />
<line x1="508.79" y1="114.00" x2="508.79" y2="115.60" stroke="#000" stroke-width="0.8" />
<line x1="372.90" y1="41.79" x2="374.50" y2="41.79" stroke="#000" stroke-width="0.8" />
<line x1="510.82" y1="114.00" x2="510.82" y2="115.60" stroke="#000" stroke-width="0.8" />
<line x1="372.90" y1="40.85" x2="374.50" y2="40.85" stroke="#000" stroke-width="0.8" />
<line x1="512.60" y1="114.00" x2="512.60" y2="115.60" stroke="#000" stroke-width="0.8" />
<line x1="371.50" y1="40.00" x2="374.50" y2="40.00" stroke="#000" stroke-width="1" />
<line x1="514.20" y1="114.00" x2="514.20" y2="117.50" stroke="#000" stroke-width="1" />
<text transform="translate(369.40,114.20) rotate(-90)" font-size="9.2" font-weight="bold" text-anchor="middle">10<tspan font-size="7" dy="-5.6">0</tspan></text>
<text transform="translate(369.40,96.50) rotate(-90)" font-size="9.2" font-weight="bold" text-anchor="middle">10<tspan font-size="7" dy="-5.6">1</tspan></text>
<text transform="translate(369.40,76.95) rotate(-90)" font-size="9.2" font-weight="bold" text-anchor="middle">10<tspan font-size="7" dy="-5.6">2</tspan></text>
<text transform="translate(369.40,59.60) rotate(-90)" font-size="9.2" font-weight="bold" text-anchor="middle">10<tspan font-size="7" dy="-5.6">3</tspan></text>
<text transform="translate(369.40,41.90) rotate(-90)" font-size="9.2" font-weight="bold" text-anchor="middle">10<tspan font-size="7" dy="-5.6">4</tspan></text>
<text x="374.00" y="127.20" font-size="9.3" font-weight="bold" text-anchor="middle">10<tspan font-size="7" dy="-6.0">0</tspan></text>
<text x="408.93" y="127.20" font-size="9.3" font-weight="bold" text-anchor="middle">10<tspan font-size="7" dy="-6.0">1</tspan></text>
<text x="443.85" y="127.20" font-size="9.3" font-weight="bold" text-anchor="middle">10<tspan font-size="7" dy="-6.0">2</tspan></text>
<text x="478.78" y="127.20" font-size="9.3" font-weight="bold" text-anchor="middle">10<tspan font-size="7" dy="-6.0">3</tspan></text>
<text x="513.70" y="127.20" font-size="9.3" font-weight="bold" text-anchor="middle">10<tspan font-size="7" dy="-6.0">4</tspan></text>
<text transform="translate(354.50,77.80) rotate(-90)" font-size="8.75" font-weight="bold" text-anchor="middle">DAPI/Dead cells</text>
<text x="443.15" y="137.70" font-size="8.66" font-weight="bold" font-style="normal" text-anchor="middle" fill="#000" >Annexin-FITC</text>
<text x="441.85" y="35.00" font-size="8.6" font-weight="bold" font-style="normal" text-anchor="middle" fill="#000" >BS14IL04_005.fcs</text>
<text x="440.20" y="76.60" font-size="13" font-weight="normal" font-style="normal" text-anchor="start" fill="#000" >0.7</text>
<text x="478.30" y="76.60" font-size="13" font-weight="normal" font-style="normal" text-anchor="start" fill="#000" >2.4</text>
<text x="439.90" y="91.80" font-size="13" font-weight="normal" font-style="normal" text-anchor="start" fill="#000" >95.1</text>
<text x="478.00" y="91.80" font-size="13" font-weight="normal" font-style="normal" text-anchor="start" fill="#000" >1.9</text>
<path d="M379 214h1v1h-1zM382 226h1v1h-1zM385 211h1v1h-1zM385 213h1v1h-1zM386 228h1v1h-1zM387 228h1v1h-1zM388 215h1v1h-1zM388 228h1v1h-1zM389 211h1v1h-1zM390 228h1v1h-1zM391 212h1v1h-1zM391 228h1v1h-1zM392 228h1v1h-1zM393 205h1v1h-1zM393 214h1v1h-1zM394 220h1v1h-1zM394 228h1v1h-1zM395 216h1v1h-1zM395 223h1v1h-1zM396 211h1v1h-1zM396 223h1v1h-1zM396 228h1v1h-1zM397 212h1v1h-1zM397 228h1v1h-1zM398 205h1v1h-1zM398 216h1v1h-1zM399 208h1v1h-1zM399 217h1v1h-1zM399 220h1v1h-1zM399 225h1v1h-1zM400 202h1v1h-1zM400 211h1v1h-1zM400 228h1v1h-1zM402 204h1v1h-1zM402 207h1v1h-1zM402 210h1v1h-1zM402 216h1v1h-1zM402 217h1v1h-1zM402 218h1v1h-1zM402 228h1v1h-1zM403 207h1v1h-1zM403 219h1v1h-1zM403 228h1v1h-1zM404 209h1v1h-1zM404 215h1v1h-1zM405 207h1v1h-1zM405 209h1v1h-1zM405 215h1v1h-1zM405 220h1v1h-1zM405 228h1v1h-1zM406 208h1v1h-1zM407 203h1v1h-1zM407 210h1v1h-1zM407 219h1v1h-1zM408 208h1v1h-1zM408 214h1v1h-1zM408 220h1v1h-1zM408 228h1v1h-1zM409 205h1v1h-1zM409 207h1v1h-1zM409 208h1v1h-1zM409 212h1v1h-1zM409 215h1v1h-1zM409 217h1v1h-1zM410 206h1v1h-1zM410 208h1v1h-1zM410 213h1v1h-1zM410 228h1v1h-1zM411 211h1v1h-1zM411 213h1v1h-1zM411 215h1v1h-1zM411 217h1v1h-1zM411 225h1v1h-1zM411 228h1v1h-1zM412 206h1v1h-1zM412 208h1v1h-1zM412 211h1v1h-1zM412 218h1v1h-1zM412 219h1v1h-1zM412 222h1v1h-1zM412 228h1v1h-1zM413 208h1v1h-1zM413 209h1v1h-1zM413 212h1v1h-1zM413 220h1v1h-1zM414 206h1v1h-1zM414 211h1v1h-1zM414 212h1v1h-1zM414 215h1v1h-1zM414 216h1v1h-1zM414 228h1v1h-1zM415 201h1v1h-1zM415 202h1v1h-1zM415 203h1v1h-1zM415 206h1v1h-1zM415 210h1v1h-1zM415 211h1v1h-1zM415 224h1v1h-1zM415 228h1v1h-1zM416 203h1v1h-1zM416 204h1v1h-1zM416 205h1v1h-1zM416 207h1v1h-1zM416 210h1v1h-1zM416 211h1v1h-1zM416 217h1v1h-1zM416 219h1v1h-1zM416 223h1v1h-1zM417 205h1v1h-1zM417 208h1v1h-1zM417 214h1v1h-1zM418 208h1v1h-1zM418 216h1v1h-1zM419 213h1v1h-1zM419 214h1v1h-1zM419 217h1v1h-1zM420 198h1v1h-1zM420 207h1v1h-1zM420 211h1v1h-1zM420 212h1v1h-1zM420 214h1v1h-1zM420 215h1v1h-1zM420 221h1v1h-1zM420 228h1v1h-1zM421 209h1v1h-1zM421 213h1v1h-1zM421 215h1v1h-1zM421 216h1v1h-1zM421 217h1v1h-1zM421 228h1v1h-1zM422 199h1v1h-1zM422 203h1v1h-1zM422 206h1v1h-1zM422 207h1v1h-1zM422 210h1v1h-1zM422 215h1v1h-1zM422 217h1v1h-1zM422 219h1v1h-1zM422 223h1v1h-1zM422 228h1v1h-1zM423 203h1v1h-1zM423 204h1v1h-1zM423 207h1v1h-1zM423 208h1v1h-1zM423 209h1v1h-1zM423 210h1v1h-1zM423 213h1v1h-1zM423 219h1v1h-1zM424 199h1v1h-1zM424 203h1v1h-1zM424 205h1v1h-1zM424 208h1v1h-1zM424 209h1v1h-1zM424 210h1v1h-1zM424 211h1v1h-1zM424 213h1v1h-1zM424 214h1v1h-1zM424 215h1v1h-1zM424 220h1v1h-1zM424 222h1v1h-1zM425 202h1v1h-1zM425 203h1v1h-1zM425 205h1v1h-1zM425 208h1v1h-1zM425 212h1v1h-1zM425 213h1v1h-1zM425 219h1v1h-1zM425 222h1v1h-1zM425 226h1v1h-1zM426 204h1v1h-1zM426 205h1v1h-1zM426 206h1v1h-1zM426 207h1v1h-1zM426 209h1v1h-1zM426 214h1v1h-1zM426 216h1v1h-1zM426 220h1v1h-1zM426 224h1v1h-1zM426 228h1v1h-1zM427 200h1v1h-1zM427 202h1v1h-1zM427 207h1v1h-1zM427 209h1v1h-1zM427 210h1v1h-1zM427 212h1v1h-1zM427 213h1v1h-1zM427 214h1v1h-1zM427 217h1v1h-1zM428 203h1v1h-1zM428 204h1v1h-1zM428 206h1v1h-1zM428 207h1v1h-1zM428 208h1v1h-1zM428 209h1v1h-1zM428 210h1v1h-1zM428 211h1v1h-1zM428 218h1v1h-1zM428 222h1v1h-1zM428 228h1v1h-1zM429 201h1v1h-1zM429 202h1v1h-1zM429 206h1v1h-1zM429 207h1v1h-1zM429 209h1v1h-1zM429 210h1v1h-1zM429 211h1v1h-1zM429 218h1v1h-1zM429 219h1v1h-1zM429 224h1v1h-1zM429 228h1v1h-1zM430 199h1v1h-1zM430 202h1v1h-1zM430 205h1v1h-1zM430 206h1v1h-1zM430 209h1v1h-1zM430 210h1v1h-1zM430 211h1v1h-1zM430 213h1v1h-1zM430 215h1v1h-1zM430 228h1v1h-1zM431 205h1v1h-1zM431 209h1v1h-1zM431 210h1v1h-1zM431 211h1v1h-1zM431 213h1v1h-1zM431 214h1v1h-1zM431 215h1v1h-1zM432 203h1v1h-1zM432 204h1v1h-1zM432 205h1v1h-1zM432 206h1v1h-1zM432 207h1v1h-1zM432 208h1v1h-1zM432 209h1v1h-1zM432 210h1v1h-1zM432 211h1v1h-1zM432 214h1v1h-1zM432 215h1v1h-1zM432 216h1v1h-1zM432 217h1v1h-1zM432 218h1v1h-1zM432 219h1v1h-1zM432 220h1v1h-1zM433 200h1v1h-1zM433 201h1v1h-1zM433 204h1v1h-1zM433 205h1v1h-1zM433 206h1v1h-1zM433 207h1v1h-1zM433 208h1v1h-1zM433 211h1v1h-1zM433 212h1v1h-1zM433 213h1v1h-1zM433 214h1v1h-1zM433 215h1v1h-1zM433 216h1v1h-1zM433 218h1v1h-1zM433 219h1v1h-1zM433 228h1v1h-1zM434 199h1v1h-1zM434 201h1v1h-1zM434 204h1v1h-1zM434 206h1v1h-1zM434 207h1v1h-1zM434 208h1v1h-1zM434 209h1v1h-1zM434 211h1v1h-1zM434 213h1v1h-1zM434 214h1v1h-1zM434 215h1v1h-1zM434 216h1v1h-1zM434 217h1v1h-1zM434 219h1v1h-1zM434 228h1v1h-1zM435 202h1v1h-1zM435 203h1v1h-1zM435 205h1v1h-1zM435 207h1v1h-1zM435 208h1v1h-1zM435 209h1v1h-1zM435 210h1v1h-1zM435 211h1v1h-1zM435 212h1v1h-1zM435 214h1v1h-1zM435 215h1v1h-1zM435 217h1v1h-1zM435 220h1v1h-1zM435 223h1v1h-1zM435 228h1v1h-1zM436 198h1v1h-1zM436 201h1v1h-1zM436 203h1v1h-1zM436 205h1v1h-1zM436 206h1v1h-1zM436 208h1v1h-1zM436 209h1v1h-1zM436 210h1v1h-1zM436 214h1v1h-1zM436 216h1v1h-1zM436 217h1v1h-1zM436 220h1v1h-1zM436 228h1v1h-1zM437 200h1v1h-1zM437 201h1v1h-1zM437 204h1v1h-1zM437 205h1v1h-1zM437 206h1v1h-1zM437 207h1v1h-1zM437 208h1v1h-1zM437 209h1v1h-1zM437 210h1v1h-1zM437 211h1v1h-1zM437 213h1v1h-1zM437 214h1v1h-1zM437 216h1v1h-1zM437 217h1v1h-1zM437 221h1v1h-1zM437 222h1v1h-1zM438 196h1v1h-1zM438 198h1v1h-1zM438 202h1v1h-1zM438 203h1v1h-1zM438 206h1v1h-1zM438 208h1v1h-1zM438 209h1v1h-1zM438 215h1v1h-1zM438 216h1v1h-1zM438 217h1v1h-1zM438 219h1v1h-1zM438 228h1v1h-1zM439 198h1v1h-1zM439 200h1v1h-1zM439 201h1v1h-1zM439 204h1v1h-1zM439 205h1v1h-1zM439 208h1v1h-1zM439 209h1v1h-1zM439 210h1v1h-1zM439 211h1v1h-1zM439 212h1v1h-1zM439 214h1v1h-1zM439 215h1v1h-1zM439 221h1v1h-1zM439 223h1v1h-1zM439 228h1v1h-1zM440 196h1v1h-1zM440 202h1v1h-1zM440 204h1v1h-1zM440 205h1v1h-1zM440 206h1v1h-1zM440 208h1v1h-1zM440 209h1v1h-1zM440 210h1v1h-1zM440 211h1v1h-1zM440 214h1v1h-1zM440 215h1v1h-1zM440 216h1v1h-1zM440 217h1v1h-1zM440 221h1v1h-1zM441 196h1v1h-1zM441 197h1v1h-1zM441 200h1v1h-1zM441 204h1v1h-1zM441 206h1v1h-1zM441 208h1v1h-1zM441 209h1v1h-1zM441 210h1v1h-1zM441 211h1v1h-1zM441 213h1v1h-1zM441 215h1v1h-1zM441 216h1v1h-1zM441 218h1v1h-1zM441 219h1v1h-1zM442 203h1v1h-1zM442 204h1v1h-1zM442 205h1v1h-1zM442 206h1v1h-1zM442 208h1v1h-1zM442 209h1v1h-1zM442 210h1v1h-1zM442 211h1v1h-1zM442 212h1v1h-1zM442 213h1v1h-1zM442 214h1v1h-1zM442 216h1v1h-1zM442 219h1v1h-1zM442 228h1v1h-1zM443 198h1v1h-1zM443 205h1v1h-1zM443 206h1v1h-1zM443 208h1v1h-1zM443 210h1v1h-1zM443 211h1v1h-1zM443 212h1v1h-1zM443 213h1v1h-1zM443 214h1v1h-1zM443 215h1v1h-1zM443 216h1v1h-1zM443 218h1v1h-1zM443 222h1v1h-1zM443 224h1v1h-1zM444 201h1v1h-1zM444 203h1v1h-1zM444 204h1v1h-1zM444 206h1v1h-1zM444 207h1v1h-1zM444 209h1v1h-1zM444 210h1v1h-1zM444 212h1v1h-1zM444 213h1v1h-1zM444 216h1v1h-1zM444 221h1v1h-1zM445 202h1v1h-1zM445 205h1v1h-1zM445 206h1v1h-1zM445 207h1v1h-1zM445 209h1v1h-1zM445 212h1v1h-1zM445 213h1v1h-1zM445 214h1v1h-1zM446 179h1v1h-1zM446 199h1v1h-1zM446 200h1v1h-1zM446 203h1v1h-1zM446 205h1v1h-1zM446 206h1v1h-1zM446 207h1v1h-1zM446 208h1v1h-1zM446 209h1v1h-1zM446 211h1v1h-1zM446 212h1v1h-1zM446 213h1v1h-1zM446 214h1v1h-1zM446 218h1v1h-1zM446 219h1v1h-1zM447 199h1v1h-1zM447 204h1v1h-1zM447 205h1v1h-1zM447 206h1v1h-1zM447 208h1v1h-1zM447 209h1v1h-1zM447 210h1v1h-1zM447 212h1v1h-1zM447 215h1v1h-1zM447 216h1v1h-1zM447 217h1v1h-1zM447 218h1v1h-1zM447 221h1v1h-1zM448 198h1v1h-1zM448 202h1v1h-1zM448 204h1v1h-1zM448 205h1v1h-1zM448 206h1v1h-1zM448 207h1v1h-1zM448 208h1v1h-1zM448 209h1v1h-1zM448 210h1v1h-1zM448 211h1v1h-1zM448 212h1v1h-1zM448 213h1v1h-1zM448 214h1v1h-1zM448 218h1v1h-1zM448 219h1v1h-1zM448 220h1v1h-1zM448 221h1v1h-1zM449 197h1v1h-1zM449 201h1v1h-1zM449 202h1v1h-1zM449 204h1v1h-1zM449 205h1v1h-1zM449 207h1v1h-1zM449 209h1v1h-1zM449 211h1v1h-1zM449 212h1v1h-1zM449 213h1v1h-1zM449 214h1v1h-1zM449 219h1v1h-1zM450 202h1v1h-1zM450 203h1v1h-1zM450 204h1v1h-1zM450 205h1v1h-1zM450 206h1v1h-1zM450 207h1v1h-1zM450 208h1v1h-1zM450 209h1v1h-1zM450 210h1v1h-1zM450 211h1v1h-1zM450 212h1v1h-1zM450 213h1v1h-1zM450 214h1v1h-1zM450 215h1v1h-1zM450 216h1v1h-1zM450 219h1v1h-1zM450 221h1v1h-1zM451 199h1v1h-1zM451 202h1v1h-1zM451 203h1v1h-1zM451 204h1v1h-1zM451 207h1v1h-1zM451 210h1v1h-1zM451 211h1v1h-1zM451 213h1v1h-1zM451 214h1v1h-1zM452 200h1v1h-1zM452 203h1v1h-1zM452 205h1v1h-1zM452 208h1v1h-1zM452 209h1v1h-1zM452 210h1v1h-1zM452 211h1v1h-1zM452 212h1v1h-1zM452 214h1v1h-1zM452 228h1v1h-1zM453 182h1v1h-1zM453 197h1v1h-1zM453 199h1v1h-1zM453 201h1v1h-1zM453 203h1v1h-1zM453 204h1v1h-1zM453 206h1v1h-1zM453 207h1v1h-1zM453 210h1v1h-1zM453 211h1v1h-1zM453 213h1v1h-1zM453 214h1v1h-1zM453 216h1v1h-1zM453 217h1v1h-1zM453 219h1v1h-1zM453 220h1v1h-1zM454 173h1v1h-1zM454 201h1v1h-1zM454 205h1v1h-1zM454 207h1v1h-1zM454 208h1v1h-1zM454 209h1v1h-1zM454 211h1v1h-1zM454 212h1v1h-1zM454 213h1v1h-1zM454 215h1v1h-1zM454 217h1v1h-1zM454 222h1v1h-1zM455 184h1v1h-1zM455 196h1v1h-1zM455 199h1v1h-1zM455 202h1v1h-1zM455 203h1v1h-1zM455 204h1v1h-1zM455 206h1v1h-1zM455 207h1v1h-1zM455 209h1v1h-1zM455 211h1v1h-1zM455 212h1v1h-1zM455 217h1v1h-1zM455 220h1v1h-1zM455 228h1v1h-1zM456 182h1v1h-1zM456 202h1v1h-1zM456 203h1v1h-1zM456 204h1v1h-1zM456 206h1v1h-1zM456 207h1v1h-1zM456 208h1v1h-1zM456 209h1v1h-1zM456 211h1v1h-1zM456 213h1v1h-1zM456 214h1v1h-1zM456 215h1v1h-1zM456 216h1v1h-1zM457 196h1v1h-1zM457 200h1v1h-1zM457 202h1v1h-1zM457 203h1v1h-1zM457 204h1v1h-1zM457 205h1v1h-1zM457 207h1v1h-1zM457 208h1v1h-1zM457 209h1v1h-1zM457 210h1v1h-1zM457 211h1v1h-1zM457 212h1v1h-1zM457 216h1v1h-1zM457 217h1v1h-1zM457 223h1v1h-1zM458 203h1v1h-1zM458 205h1v1h-1zM458 206h1v1h-1zM458 208h1v1h-1zM458 209h1v1h-1zM458 210h1v1h-1zM458 211h1v1h-1zM458 212h1v1h-1zM458 213h1v1h-1zM458 217h1v1h-1zM459 196h1v1h-1zM459 201h1v1h-1zM459 205h1v1h-1zM459 206h1v1h-1zM459 207h1v1h-1zM459 208h1v1h-1zM459 209h1v1h-1zM459 211h1v1h-1zM459 213h1v1h-1zM459 214h1v1h-1zM459 217h1v1h-1zM459 221h1v1h-1zM460 207h1v1h-1zM460 208h1v1h-1zM460 212h1v1h-1zM460 213h1v1h-1zM461 202h1v1h-1zM461 203h1v1h-1zM461 204h1v1h-1zM461 206h1v1h-1zM461 208h1v1h-1zM461 209h1v1h-1zM461 210h1v1h-1zM461 211h1v1h-1zM461 212h1v1h-1zM461 217h1v1h-1zM462 200h1v1h-1zM462 201h1v1h-1zM462 203h1v1h-1zM462 205h1v1h-1zM462 208h1v1h-1zM462 212h1v1h-1zM462 228h1v1h-1zM463 194h1v1h-1zM463 202h1v1h-1zM463 203h1v1h-1zM463 208h1v1h-1zM463 209h1v1h-1zM463 210h1v1h-1zM463 211h1v1h-1zM463 212h1v1h-1zM463 213h1v1h-1zM463 221h1v1h-1zM463 228h1v1h-1zM464 204h1v1h-1zM464 205h1v1h-1zM464 212h1v1h-1zM464 214h1v1h-1zM464 218h1v1h-1zM465 201h1v1h-1zM465 202h1v1h-1zM465 205h1v1h-1zM465 206h1v1h-1zM465 207h1v1h-1zM465 211h1v1h-1zM465 216h1v1h-1zM466 205h1v1h-1zM466 206h1v1h-1zM466 207h1v1h-1zM466 211h1v1h-1zM466 216h1v1h-1zM466 228h1v1h-1zM467 202h1v1h-1zM467 205h1v1h-1zM467 207h1v1h-1zM467 213h1v1h-1zM467 216h1v1h-1zM467 217h1v1h-1zM467 228h1v1h-1zM468 206h1v1h-1zM468 212h1v1h-1zM468 213h1v1h-1zM469 198h1v1h-1zM469 202h1v1h-1zM469 209h1v1h-1zM469 210h1v1h-1zM469 214h1v1h-1zM470 203h1v1h-1zM470 206h1v1h-1zM470 207h1v1h-1zM470 210h1v1h-1zM470 213h1v1h-1zM470 215h1v1h-1zM471 202h1v1h-1zM472 204h1v1h-1zM472 212h1v1h-1zM472 228h1v1h-1zM473 206h1v1h-1zM473 208h1v1h-1zM473 228h1v1h-1zM477 228h1v1h-1zM478 206h1v1h-1zM479 219h1v1h-1zM479 224h1v1h-1zM480 156h1v1h-1zM480 198h1v1h-1zM480 228h1v1h-1zM481 217h1v1h-1zM481 228h1v1h-1zM483 197h1v1h-1zM484 228h1v1h-1zM485 199h1v1h-1zM485 204h1v1h-1zM486 157h1v1h-1zM487 162h1v1h-1zM488 162h1v1h-1zM488 197h1v1h-1zM488 202h1v1h-1zM488 224h1v1h-1zM489 153h1v1h-1zM489 168h1v1h-1zM489 170h1v1h-1zM489 208h1v1h-1zM490 200h1v1h-1zM490 221h1v1h-1zM491 162h1v1h-1zM491 167h1v1h-1zM491 172h1v1h-1zM492 164h1v1h-1zM493 175h1v1h-1zM498 175h1v1h-1zM499 172h1v1h-1zM503 162h1v1h-1zM511 165h1v1h-1z" fill="#7a7a7a"/>
<line x1="471.50" y1="151.00" x2="471.50" y2="228.90" stroke="#444" stroke-width="1" />
<line x1="374.00" y1="192.20" x2="513.20" y2="192.20" stroke="#444" stroke-width="1" />
<line x1="374.00" y1="228.90" x2="513.20" y2="228.90" stroke="#666" stroke-width="1" />
<line x1="374.00" y1="151.00" x2="513.20" y2="151.00" stroke="#3a3a3a" stroke-width="1.4" />
<line x1="513.20" y1="151.00" x2="513.20" y2="228.90" stroke="#3a3a3a" stroke-width="1.4" />
<line x1="374.00" y1="150.30" x2="374.00" y2="229.40" stroke="#000" stroke-width="1.5" />
<line x1="371.00" y1="228.90" x2="374.00" y2="228.90" stroke="#000" stroke-width="1" />
<line x1="374.00" y1="228.90" x2="374.00" y2="232.40" stroke="#000" stroke-width="1" />
<line x1="372.40" y1="223.04" x2="374.00" y2="223.04" stroke="#000" stroke-width="0.8" />
<line x1="384.48" y1="228.90" x2="384.48" y2="230.50" stroke="#000" stroke-width="0.8" />
<line x1="372.40" y1="219.61" x2="374.00" y2="219.61" stroke="#000" stroke-width="0.8" />
<line x1="390.60" y1="228.90" x2="390.60" y2="230.50" stroke="#000" stroke-width="0.8" />
<line x1="372.40" y1="217.17" x2="374.00" y2="217.17" stroke="#000" stroke-width="0.8" />
<line x1="394.95" y1="228.90" x2="394.95" y2="230.50" stroke="#000" stroke-width="0.8" />
<line x1="372.40" y1="215.29" x2="374.00" y2="215.29" stroke="#000" stroke-width="0.8" />
<line x1="398.32" y1="228.90" x2="398.32" y2="230.50" stroke="#000" stroke-width="0.8" />
<line x1="372.40" y1="213.75" x2="374.00" y2="213.75" stroke="#000" stroke-width="0.8" />
<line x1="401.08" y1="228.90" x2="401.08" y2="230.50" stroke="#000" stroke-width="0.8" />
<line x1="372.40" y1="212.44" x2="374.00" y2="212.44" stroke="#000" stroke-width="0.8" />
<line x1="403.41" y1="228.90" x2="403.41" y2="230.50" stroke="#000" stroke-width="0.8" />
<line x1="372.40" y1="211.31" x2="374.00" y2="211.31" stroke="#000" stroke-width="0.8" />
<line x1="405.43" y1="228.90" x2="405.43" y2="230.50" stroke="#000" stroke-width="0.8" />
<line x1="372.40" y1="210.32" x2="374.00" y2="210.32" stroke="#000" stroke-width="0.8" />
<line x1="407.21" y1="228.90" x2="407.21" y2="230.50" stroke="#000" stroke-width="0.8" />
<line x1="371.00" y1="209.43" x2="374.00" y2="209.43" stroke="#000" stroke-width="1" />
<line x1="408.80" y1="228.90" x2="408.80" y2="232.40" stroke="#000" stroke-width="1" />
<line x1="372.40" y1="203.56" x2="374.00" y2="203.56" stroke="#000" stroke-width="0.8" />
<line x1="419.28" y1="228.90" x2="419.28" y2="230.50" stroke="#000" stroke-width="0.8" />
<line x1="372.40" y1="200.13" x2="374.00" y2="200.13" stroke="#000" stroke-width="0.8" />
<line x1="425.40" y1="228.90" x2="425.40" y2="230.50" stroke="#000" stroke-width="0.8" />
<line x1="372.40" y1="197.70" x2="374.00" y2="197.70" stroke="#000" stroke-width="0.8" />
<line x1="429.75" y1="228.90" x2="429.75" y2="230.50" stroke="#000" stroke-width="0.8" />
<line x1="372.40" y1="195.81" x2="374.00" y2="195.81" stroke="#000" stroke-width="0.8" />
<line x1="433.12" y1="228.90" x2="433.12" y2="230.50" stroke="#000" stroke-width="0.8" />
<line x1="372.40" y1="194.27" x2="374.00" y2="194.27" stroke="#000" stroke-width="0.8" />
<line x1="435.88" y1="228.90" x2="435.88" y2="230.50" stroke="#000" stroke-width="0.8" />
<line x1="372.40" y1="192.97" x2="374.00" y2="192.97" stroke="#000" stroke-width="0.8" />
<line x1="438.21" y1="228.90" x2="438.21" y2="230.50" stroke="#000" stroke-width="0.8" />
<line x1="372.40" y1="191.84" x2="374.00" y2="191.84" stroke="#000" stroke-width="0.8" />
<line x1="440.23" y1="228.90" x2="440.23" y2="230.50" stroke="#000" stroke-width="0.8" />
<line x1="372.40" y1="190.84" x2="374.00" y2="190.84" stroke="#000" stroke-width="0.8" />
<line x1="442.01" y1="228.90" x2="442.01" y2="230.50" stroke="#000" stroke-width="0.8" />
<line x1="371.00" y1="189.95" x2="374.00" y2="189.95" stroke="#000" stroke-width="1" />
<line x1="443.60" y1="228.90" x2="443.60" y2="232.40" stroke="#000" stroke-width="1" />
<line x1="372.40" y1="184.09" x2="374.00" y2="184.09" stroke="#000" stroke-width="0.8" />
<line x1="454.08" y1="228.90" x2="454.08" y2="230.50" stroke="#000" stroke-width="0.8" />
<line x1="372.40" y1="180.66" x2="374.00" y2="180.66" stroke="#000" stroke-width="0.8" />
<line x1="460.20" y1="228.90" x2="460.20" y2="230.50" stroke="#000" stroke-width="0.8" />
<line x1="372.40" y1="178.22" x2="374.00" y2="178.22" stroke="#000" stroke-width="0.8" />
<line x1="464.55" y1="228.90" x2="464.55" y2="230.50" stroke="#000" stroke-width="0.8" />
<line x1="372.40" y1="176.34" x2="374.00" y2="176.34" stroke="#000" stroke-width="0.8" />
<line x1="467.92" y1="228.90" x2="467.92" y2="230.50" stroke="#000" stroke-width="0.8" />
<line x1="372.40" y1="174.80" x2="374.00" y2="174.80" stroke="#000" stroke-width="0.8" />
<line x1="470.68" y1="228.90" x2="470.68" y2="230.50" stroke="#000" stroke-width="0.8" />
<line x1="372.40" y1="173.49" x2="374.00" y2="173.49" stroke="#000" stroke-width="0.8" />
<line x1="473.01" y1="228.90" x2="473.01" y2="230.50" stroke="#000" stroke-width="0.8" />
<line x1="372.40" y1="172.36" x2="374.00" y2="172.36" stroke="#000" stroke-width="0.8" />
<line x1="475.03" y1="228.90" x2="475.03" y2="230.50" stroke="#000" stroke-width="0.8" />
<line x1="372.40" y1="171.37" x2="374.00" y2="171.37" stroke="#000" stroke-width="0.8" />
<line x1="476.81" y1="228.90" x2="476.81" y2="230.50" stroke="#000" stroke-width="0.8" />
<line x1="371.00" y1="170.47" x2="374.00" y2="170.47" stroke="#000" stroke-width="1" />
<line x1="478.40" y1="228.90" x2="478.40" y2="232.40" stroke="#000" stroke-width="1" />
<line x1="372.40" y1="164.61" x2="374.00" y2="164.61" stroke="#000" stroke-width="0.8" />
<line x1="488.88" y1="228.90" x2="488.88" y2="230.50" stroke="#000" stroke-width="0.8" />
<line x1="372.40" y1="161.18" x2="374.00" y2="161.18" stroke="#000" stroke-width="0.8" />
<line x1="495.00" y1="228.90" x2="495.00" y2="230.50" stroke="#000" stroke-width="0.8" />
<line x1="372.40" y1="158.75" x2="374.00" y2="158.75" stroke="#000" stroke-width="0.8" />
<line x1="499.35" y1="228.90" x2="499.35" y2="230.50" stroke="#000" stroke-width="0.8" />
<line x1="372.40" y1="156.86" x2="374.00" y2="156.86" stroke="#000" stroke-width="0.8" />
<line x1="502.72" y1="228.90" x2="502.72" y2="230.50" stroke="#000" stroke-width="0.8" />
<line x1="372.40" y1="155.32" x2="374.00" y2="155.32" stroke="#000" stroke-width="0.8" />
<line x1="505.48" y1="228.90" x2="505.48" y2="230.50" stroke="#000" stroke-width="0.8" />
<line x1="372.40" y1="154.02" x2="374.00" y2="154.02" stroke="#000" stroke-width="0.8" />
<line x1="507.81" y1="228.90" x2="507.81" y2="230.50" stroke="#000" stroke-width="0.8" />
<line x1="372.40" y1="152.89" x2="374.00" y2="152.89" stroke="#000" stroke-width="0.8" />
<line x1="509.83" y1="228.90" x2="509.83" y2="230.50" stroke="#000" stroke-width="0.8" />
<line x1="372.40" y1="151.89" x2="374.00" y2="151.89" stroke="#000" stroke-width="0.8" />
<line x1="511.61" y1="228.90" x2="511.61" y2="230.50" stroke="#000" stroke-width="0.8" />
<line x1="371.00" y1="151.00" x2="374.00" y2="151.00" stroke="#000" stroke-width="1" />
<line x1="513.20" y1="228.90" x2="513.20" y2="232.40" stroke="#000" stroke-width="1" />
<text transform="translate(368.90,229.40) rotate(-90)" font-size="9.2" font-weight="bold" text-anchor="middle">10<tspan font-size="7" dy="-5.6">0</tspan></text>
<text transform="translate(368.90,209.95) rotate(-90)" font-size="9.2" font-weight="bold" text-anchor="middle">10<tspan font-size="7" dy="-5.6">1</tspan></text>
<text transform="translate(368.90,188.45) rotate(-90)" font-size="9.2" font-weight="bold" text-anchor="middle">10<tspan font-size="7" dy="-5.6">2</tspan></text>
<text transform="translate(368.90,168.20) rotate(-90)" font-size="9.2" font-weight="bold" text-anchor="middle">10<tspan font-size="7" dy="-5.6">3</tspan></text>
<text transform="translate(368.90,148.70) rotate(-90)" font-size="9.2" font-weight="bold" text-anchor="middle">10<tspan font-size="7" dy="-5.6">4</tspan></text>
<text x="373.50" y="242.40" font-size="9.3" font-weight="bold" text-anchor="middle">10<tspan font-size="7" dy="-6.0">0</tspan></text>
<text x="408.30" y="242.40" font-size="9.3" font-weight="bold" text-anchor="middle">10<tspan font-size="7" dy="-6.0">1</tspan></text>
<text x="443.10" y="242.40" font-size="9.3" font-weight="bold" text-anchor="middle">10<tspan font-size="7" dy="-6.0">2</tspan></text>
<text x="477.90" y="242.40" font-size="9.3" font-weight="bold" text-anchor="middle">10<tspan font-size="7" dy="-6.0">3</tspan></text>
<text x="512.70" y="242.40" font-size="9.3" font-weight="bold" text-anchor="middle">10<tspan font-size="7" dy="-6.0">4</tspan></text>
<text transform="translate(354.00,190.75) rotate(-90)" font-size="8.75" font-weight="bold" text-anchor="middle">DAPI/Dead cells</text>
<text x="442.40" y="253.50" font-size="8.66" font-weight="bold" font-style="normal" text-anchor="middle" fill="#000" >Annexin-FITC</text>
<text x="440.20" y="188.90" font-size="13" font-weight="normal" font-style="normal" text-anchor="start" fill="#000" >0.5</text>
<text x="479.40" y="188.90" font-size="13" font-weight="normal" font-style="normal" text-anchor="start" fill="#000" >1.6</text>
<text x="439.90" y="204.30" font-size="13" font-weight="normal" font-style="normal" text-anchor="start" fill="#000" >95.4</text>
<text x="477.90" y="204.30" font-size="13" font-weight="normal" font-style="normal" text-anchor="start" fill="#000" >2.5</text>
<path d="M376 321h1v1h-1zM385 347h1v1h-1zM386 347h1v1h-1zM388 329h1v1h-1zM389 327h1v1h-1zM390 347h1v1h-1zM391 328h1v1h-1zM392 347h1v1h-1zM393 329h1v1h-1zM393 347h1v1h-1zM394 332h1v1h-1zM394 347h1v1h-1zM395 327h1v1h-1zM396 340h1v1h-1zM396 341h1v1h-1zM397 330h1v1h-1zM397 341h1v1h-1zM397 347h1v1h-1zM398 324h1v1h-1zM398 334h1v1h-1zM398 338h1v1h-1zM398 347h1v1h-1zM399 325h1v1h-1zM399 333h1v1h-1zM399 342h1v1h-1zM400 331h1v1h-1zM400 347h1v1h-1zM401 347h1v1h-1zM402 331h1v1h-1zM402 337h1v1h-1zM402 339h1v1h-1zM403 336h1v1h-1zM403 347h1v1h-1zM404 325h1v1h-1zM404 326h1v1h-1zM404 329h1v1h-1zM404 331h1v1h-1zM404 334h1v1h-1zM404 347h1v1h-1zM406 320h1v1h-1zM406 326h1v1h-1zM406 332h1v1h-1zM406 347h1v1h-1zM407 329h1v1h-1zM407 331h1v1h-1zM407 335h1v1h-1zM407 337h1v1h-1zM407 339h1v1h-1zM407 347h1v1h-1zM408 323h1v1h-1zM408 329h1v1h-1zM408 347h1v1h-1zM409 328h1v1h-1zM409 336h1v1h-1zM409 345h1v1h-1zM410 321h1v1h-1zM410 323h1v1h-1zM410 328h1v1h-1zM410 335h1v1h-1zM410 336h1v1h-1zM410 337h1v1h-1zM410 347h1v1h-1zM411 318h1v1h-1zM411 322h1v1h-1zM411 333h1v1h-1zM412 315h1v1h-1zM412 318h1v1h-1zM412 325h1v1h-1zM412 327h1v1h-1zM412 331h1v1h-1zM412 332h1v1h-1zM412 336h1v1h-1zM412 338h1v1h-1zM412 347h1v1h-1zM413 331h1v1h-1zM413 341h1v1h-1zM413 347h1v1h-1zM414 321h1v1h-1zM414 328h1v1h-1zM414 334h1v1h-1zM414 347h1v1h-1zM415 323h1v1h-1zM415 325h1v1h-1zM415 331h1v1h-1zM415 332h1v1h-1zM415 343h1v1h-1zM416 320h1v1h-1zM416 331h1v1h-1zM416 332h1v1h-1zM416 334h1v1h-1zM416 343h1v1h-1zM416 347h1v1h-1zM417 316h1v1h-1zM417 332h1v1h-1zM417 336h1v1h-1zM417 337h1v1h-1zM417 340h1v1h-1zM417 347h1v1h-1zM418 317h1v1h-1zM418 335h1v1h-1zM418 336h1v1h-1zM418 347h1v1h-1zM419 315h1v1h-1zM419 323h1v1h-1zM419 324h1v1h-1zM419 329h1v1h-1zM419 332h1v1h-1zM419 333h1v1h-1zM419 336h1v1h-1zM419 341h1v1h-1zM419 347h1v1h-1zM420 322h1v1h-1zM420 323h1v1h-1zM420 325h1v1h-1zM420 326h1v1h-1zM420 327h1v1h-1zM420 328h1v1h-1zM420 331h1v1h-1zM420 334h1v1h-1zM420 335h1v1h-1zM421 318h1v1h-1zM421 321h1v1h-1zM421 323h1v1h-1zM421 325h1v1h-1zM421 327h1v1h-1zM421 329h1v1h-1zM421 330h1v1h-1zM421 334h1v1h-1zM421 336h1v1h-1zM421 341h1v1h-1zM421 347h1v1h-1zM422 317h1v1h-1zM422 326h1v1h-1zM422 330h1v1h-1zM422 334h1v1h-1zM422 345h1v1h-1zM422 347h1v1h-1zM423 320h1v1h-1zM423 321h1v1h-1zM423 323h1v1h-1zM423 325h1v1h-1zM423 337h1v1h-1zM423 339h1v1h-1zM423 347h1v1h-1zM424 315h1v1h-1zM424 318h1v1h-1zM424 319h1v1h-1zM424 328h1v1h-1zM424 333h1v1h-1zM424 338h1v1h-1zM424 339h1v1h-1zM425 318h1v1h-1zM425 326h1v1h-1zM425 327h1v1h-1zM425 330h1v1h-1zM425 333h1v1h-1zM425 334h1v1h-1zM425 342h1v1h-1zM425 347h1v1h-1zM426 318h1v1h-1zM426 323h1v1h-1zM426 327h1v1h-1zM426 328h1v1h-1zM426 330h1v1h-1zM426 334h1v1h-1zM426 347h1v1h-1zM427 329h1v1h-1zM427 331h1v1h-1zM427 332h1v1h-1zM427 333h1v1h-1zM427 334h1v1h-1zM427 341h1v1h-1zM428 322h1v1h-1zM428 328h1v1h-1zM428 329h1v1h-1zM428 331h1v1h-1zM428 332h1v1h-1zM428 335h1v1h-1zM428 347h1v1h-1zM429 321h1v1h-1zM429 325h1v1h-1zM429 326h1v1h-1zM429 327h1v1h-1zM429 328h1v1h-1zM429 332h1v1h-1zM429 333h1v1h-1zM429 334h1v1h-1zM429 342h1v1h-1zM430 319h1v1h-1zM430 320h1v1h-1zM430 321h1v1h-1zM430 323h1v1h-1zM430 325h1v1h-1zM430 326h1v1h-1zM430 327h1v1h-1zM430 328h1v1h-1zM430 329h1v1h-1zM430 333h1v1h-1zM430 336h1v1h-1zM430 337h1v1h-1zM430 347h1v1h-1zM431 321h1v1h-1zM431 324h1v1h-1zM431 325h1v1h-1zM431 331h1v1h-1zM431 333h1v1h-1zM431 334h1v1h-1zM431 340h1v1h-1zM431 344h1v1h-1zM431 347h1v1h-1zM432 320h1v1h-1zM432 322h1v1h-1zM432 324h1v1h-1zM432 325h1v1h-1zM432 326h1v1h-1zM432 327h1v1h-1zM432 329h1v1h-1zM432 331h1v1h-1zM432 333h1v1h-1zM432 335h1v1h-1zM432 347h1v1h-1zM433 316h1v1h-1zM433 323h1v1h-1zM433 325h1v1h-1zM433 332h1v1h-1zM433 333h1v1h-1zM433 338h1v1h-1zM433 347h1v1h-1zM434 321h1v1h-1zM434 322h1v1h-1zM434 325h1v1h-1zM434 327h1v1h-1zM434 329h1v1h-1zM434 330h1v1h-1zM434 333h1v1h-1zM434 338h1v1h-1zM434 339h1v1h-1zM435 326h1v1h-1zM435 327h1v1h-1zM435 328h1v1h-1zM435 329h1v1h-1zM435 331h1v1h-1zM435 347h1v1h-1zM436 314h1v1h-1zM436 315h1v1h-1zM436 322h1v1h-1zM436 323h1v1h-1zM436 325h1v1h-1zM436 327h1v1h-1zM436 329h1v1h-1zM436 332h1v1h-1zM436 334h1v1h-1zM436 335h1v1h-1zM437 315h1v1h-1zM437 319h1v1h-1zM437 321h1v1h-1zM437 322h1v1h-1zM437 323h1v1h-1zM437 324h1v1h-1zM437 326h1v1h-1zM437 327h1v1h-1zM437 328h1v1h-1zM437 329h1v1h-1zM437 330h1v1h-1zM437 331h1v1h-1zM437 332h1v1h-1zM437 333h1v1h-1zM437 336h1v1h-1zM437 347h1v1h-1zM438 318h1v1h-1zM438 319h1v1h-1zM438 322h1v1h-1zM438 323h1v1h-1zM438 325h1v1h-1zM438 326h1v1h-1zM438 329h1v1h-1zM438 331h1v1h-1zM438 332h1v1h-1zM438 333h1v1h-1zM438 337h1v1h-1zM438 340h1v1h-1zM439 316h1v1h-1zM439 317h1v1h-1zM439 321h1v1h-1zM439 322h1v1h-1zM439 324h1v1h-1zM439 325h1v1h-1zM439 326h1v1h-1zM439 327h1v1h-1zM439 328h1v1h-1zM439 329h1v1h-1zM439 330h1v1h-1zM439 331h1v1h-1zM439 332h1v1h-1zM439 333h1v1h-1zM439 334h1v1h-1zM439 335h1v1h-1zM439 337h1v1h-1zM439 338h1v1h-1zM440 317h1v1h-1zM440 320h1v1h-1zM440 321h1v1h-1zM440 322h1v1h-1zM440 323h1v1h-1zM440 324h1v1h-1zM440 326h1v1h-1zM440 328h1v1h-1zM440 329h1v1h-1zM440 330h1v1h-1zM440 331h1v1h-1zM440 347h1v1h-1zM441 316h1v1h-1zM441 317h1v1h-1zM441 320h1v1h-1zM441 322h1v1h-1zM441 323h1v1h-1zM441 324h1v1h-1zM441 328h1v1h-1zM441 331h1v1h-1zM441 332h1v1h-1zM441 335h1v1h-1zM441 338h1v1h-1zM441 339h1v1h-1zM442 319h1v1h-1zM442 320h1v1h-1zM442 323h1v1h-1zM442 324h1v1h-1zM442 325h1v1h-1zM442 326h1v1h-1zM442 327h1v1h-1zM442 328h1v1h-1zM442 329h1v1h-1zM442 330h1v1h-1zM442 331h1v1h-1zM442 332h1v1h-1zM442 333h1v1h-1zM442 334h1v1h-1zM442 344h1v1h-1zM443 300h1v1h-1zM443 311h1v1h-1zM443 314h1v1h-1zM443 317h1v1h-1zM443 318h1v1h-1zM443 321h1v1h-1zM443 322h1v1h-1zM443 323h1v1h-1zM443 324h1v1h-1zM443 326h1v1h-1zM443 327h1v1h-1zM443 328h1v1h-1zM443 329h1v1h-1zM443 330h1v1h-1zM443 331h1v1h-1zM443 334h1v1h-1zM443 336h1v1h-1zM443 337h1v1h-1zM443 340h1v1h-1zM443 347h1v1h-1zM444 317h1v1h-1zM444 318h1v1h-1zM444 320h1v1h-1zM444 321h1v1h-1zM444 322h1v1h-1zM444 324h1v1h-1zM444 325h1v1h-1zM444 327h1v1h-1zM444 328h1v1h-1zM444 329h1v1h-1zM444 331h1v1h-1zM444 333h1v1h-1zM444 334h1v1h-1zM444 335h1v1h-1zM444 347h1v1h-1zM445 310h1v1h-1zM445 314h1v1h-1zM445 316h1v1h-1zM445 319h1v1h-1zM445 320h1v1h-1zM445 321h1v1h-1zM445 322h1v1h-1zM445 323h1v1h-1zM445 324h1v1h-1zM445 326h1v1h-1zM445 327h1v1h-1zM445 329h1v1h-1zM445 330h1v1h-1zM445 332h1v1h-1zM445 334h1v1h-1zM445 335h1v1h-1zM445 336h1v1h-1zM446 318h1v1h-1zM446 320h1v1h-1zM446 321h1v1h-1zM446 322h1v1h-1zM446 323h1v1h-1zM446 324h1v1h-1zM446 325h1v1h-1zM446 327h1v1h-1zM446 328h1v1h-1zM446 329h1v1h-1zM446 330h1v1h-1zM446 331h1v1h-1zM446 332h1v1h-1zM446 345h1v1h-1zM447 314h1v1h-1zM447 322h1v1h-1zM447 323h1v1h-1zM447 324h1v1h-1zM447 325h1v1h-1zM447 326h1v1h-1zM447 328h1v1h-1zM447 329h1v1h-1zM447 330h1v1h-1zM447 331h1v1h-1zM447 333h1v1h-1zM447 334h1v1h-1zM447 335h1v1h-1zM447 337h1v1h-1zM447 344h1v1h-1zM447 347h1v1h-1zM448 309h1v1h-1zM448 312h1v1h-1zM448 315h1v1h-1zM448 316h1v1h-1zM448 321h1v1h-1zM448 322h1v1h-1zM448 323h1v1h-1zM448 326h1v1h-1zM448 327h1v1h-1zM448 328h1v1h-1zM448 329h1v1h-1zM448 330h1v1h-1zM448 331h1v1h-1zM448 332h1v1h-1zM448 335h1v1h-1zM448 337h1v1h-1zM448 338h1v1h-1zM449 304h1v1h-1zM449 310h1v1h-1zM449 311h1v1h-1zM449 315h1v1h-1zM449 316h1v1h-1zM449 319h1v1h-1zM449 320h1v1h-1zM449 324h1v1h-1zM449 325h1v1h-1zM449 326h1v1h-1zM449 327h1v1h-1zM449 329h1v1h-1zM449 331h1v1h-1zM449 332h1v1h-1zM449 333h1v1h-1zM449 338h1v1h-1zM449 339h1v1h-1zM449 340h1v1h-1zM449 347h1v1h-1zM450 295h1v1h-1zM450 315h1v1h-1zM450 319h1v1h-1zM450 320h1v1h-1zM450 321h1v1h-1zM450 322h1v1h-1zM450 323h1v1h-1zM450 325h1v1h-1zM450 327h1v1h-1zM450 328h1v1h-1zM450 329h1v1h-1zM450 330h1v1h-1zM450 331h1v1h-1zM450 333h1v1h-1zM450 335h1v1h-1zM450 336h1v1h-1zM450 339h1v1h-1zM450 347h1v1h-1zM451 313h1v1h-1zM451 315h1v1h-1zM451 319h1v1h-1zM451 321h1v1h-1zM451 322h1v1h-1zM451 323h1v1h-1zM451 324h1v1h-1zM451 325h1v1h-1zM451 327h1v1h-1zM451 328h1v1h-1zM451 329h1v1h-1zM451 331h1v1h-1zM451 335h1v1h-1zM451 336h1v1h-1zM451 337h1v1h-1zM451 339h1v1h-1zM452 308h1v1h-1zM452 310h1v1h-1zM452 316h1v1h-1zM452 317h1v1h-1zM452 319h1v1h-1zM452 321h1v1h-1zM452 322h1v1h-1zM452 323h1v1h-1zM452 324h1v1h-1zM452 325h1v1h-1zM452 326h1v1h-1zM452 327h1v1h-1zM452 328h1v1h-1zM452 329h1v1h-1zM452 330h1v1h-1zM452 331h1v1h-1zM452 332h1v1h-1zM452 333h1v1h-1zM452 337h1v1h-1zM452 338h1v1h-1zM452 342h1v1h-1zM453 315h1v1h-1zM453 318h1v1h-1zM453 319h1v1h-1zM453 320h1v1h-1zM453 321h1v1h-1zM453 322h1v1h-1zM453 324h1v1h-1zM453 325h1v1h-1zM453 326h1v1h-1zM453 327h1v1h-1zM453 328h1v1h-1zM453 329h1v1h-1zM453 330h1v1h-1zM453 332h1v1h-1zM453 333h1v1h-1zM453 334h1v1h-1zM453 338h1v1h-1zM453 339h1v1h-1zM453 347h1v1h-1zM454 297h1v1h-1zM454 307h1v1h-1zM454 312h1v1h-1zM454 313h1v1h-1zM454 315h1v1h-1zM454 320h1v1h-1zM454 322h1v1h-1zM454 323h1v1h-1zM454 324h1v1h-1zM454 325h1v1h-1zM454 326h1v1h-1zM454 327h1v1h-1zM454 328h1v1h-1zM454 329h1v1h-1zM454 330h1v1h-1zM454 331h1v1h-1zM454 332h1v1h-1zM454 336h1v1h-1zM454 337h1v1h-1zM454 338h1v1h-1zM454 347h1v1h-1zM455 308h1v1h-1zM455 311h1v1h-1zM455 312h1v1h-1zM455 318h1v1h-1zM455 320h1v1h-1zM455 321h1v1h-1zM455 322h1v1h-1zM455 323h1v1h-1zM455 324h1v1h-1zM455 325h1v1h-1zM455 326h1v1h-1zM455 327h1v1h-1zM455 328h1v1h-1zM455 329h1v1h-1zM455 330h1v1h-1zM455 331h1v1h-1zM455 332h1v1h-1zM455 333h1v1h-1zM455 336h1v1h-1zM455 338h1v1h-1zM455 340h1v1h-1zM456 314h1v1h-1zM456 315h1v1h-1zM456 319h1v1h-1zM456 320h1v1h-1zM456 321h1v1h-1zM456 322h1v1h-1zM456 323h1v1h-1zM456 324h1v1h-1zM456 325h1v1h-1zM456 326h1v1h-1zM456 328h1v1h-1zM456 330h1v1h-1zM456 333h1v1h-1zM456 334h1v1h-1zM456 335h1v1h-1zM456 336h1v1h-1zM456 339h1v1h-1zM456 341h1v1h-1zM456 346h1v1h-1zM457 308h1v1h-1zM457 315h1v1h-1zM457 318h1v1h-1zM457 320h1v1h-1zM457 321h1v1h-1zM457 322h1v1h-1zM457 323h1v1h-1zM457 324h1v1h-1zM457 325h1v1h-1zM457 326h1v1h-1zM457 327h1v1h-1zM457 328h1v1h-1zM457 330h1v1h-1zM457 331h1v1h-1zM457 332h1v1h-1zM457 333h1v1h-1zM457 335h1v1h-1zM458 313h1v1h-1zM458 314h1v1h-1zM458 316h1v1h-1zM458 317h1v1h-1zM458 319h1v1h-1zM458 320h1v1h-1zM458 321h1v1h-1zM458 323h1v1h-1zM458 324h1v1h-1zM458 326h1v1h-1zM458 328h1v1h-1zM458 329h1v1h-1zM458 330h1v1h-1zM458 331h1v1h-1zM458 332h1v1h-1zM458 333h1v1h-1zM458 334h1v1h-1zM458 335h1v1h-1zM458 339h1v1h-1zM458 340h1v1h-1zM459 316h1v1h-1zM459 317h1v1h-1zM459 318h1v1h-1zM459 319h1v1h-1zM459 321h1v1h-1zM459 323h1v1h-1zM459 324h1v1h-1zM459 325h1v1h-1zM459 326h1v1h-1zM459 330h1v1h-1zM459 331h1v1h-1zM459 332h1v1h-1zM459 333h1v1h-1zM459 336h1v1h-1zM459 337h1v1h-1zM460 314h1v1h-1zM460 316h1v1h-1zM460 319h1v1h-1zM460 320h1v1h-1zM460 321h1v1h-1zM460 322h1v1h-1zM460 323h1v1h-1zM460 324h1v1h-1zM460 325h1v1h-1zM460 326h1v1h-1zM460 328h1v1h-1zM460 329h1v1h-1zM460 330h1v1h-1zM460 331h1v1h-1zM460 332h1v1h-1zM460 336h1v1h-1zM460 338h1v1h-1zM460 344h1v1h-1zM460 347h1v1h-1zM461 312h1v1h-1zM461 317h1v1h-1zM461 319h1v1h-1zM461 320h1v1h-1zM461 321h1v1h-1zM461 322h1v1h-1zM461 323h1v1h-1zM461 324h1v1h-1zM461 326h1v1h-1zM461 327h1v1h-1zM461 328h1v1h-1zM461 330h1v1h-1zM461 331h1v1h-1zM461 332h1v1h-1zM461 333h1v1h-1zM461 334h1v1h-1zM461 340h1v1h-1zM461 347h1v1h-1zM462 314h1v1h-1zM462 315h1v1h-1zM462 316h1v1h-1zM462 317h1v1h-1zM462 319h1v1h-1zM462 320h1v1h-1zM462 321h1v1h-1zM462 322h1v1h-1zM462 323h1v1h-1zM462 324h1v1h-1zM462 325h1v1h-1zM462 327h1v1h-1zM462 328h1v1h-1zM462 330h1v1h-1zM462 331h1v1h-1zM462 334h1v1h-1zM462 339h1v1h-1zM462 341h1v1h-1zM462 347h1v1h-1zM463 314h1v1h-1zM463 316h1v1h-1zM463 317h1v1h-1zM463 318h1v1h-1zM463 319h1v1h-1zM463 322h1v1h-1zM463 323h1v1h-1zM463 325h1v1h-1zM463 326h1v1h-1zM463 328h1v1h-1zM463 329h1v1h-1zM463 331h1v1h-1zM463 337h1v1h-1zM463 347h1v1h-1zM464 310h1v1h-1zM464 321h1v1h-1zM464 323h1v1h-1zM464 324h1v1h-1zM464 325h1v1h-1zM464 326h1v1h-1zM464 327h1v1h-1zM464 328h1v1h-1zM464 330h1v1h-1zM464 331h1v1h-1zM464 332h1v1h-1zM464 333h1v1h-1zM464 334h1v1h-1zM465 313h1v1h-1zM465 314h1v1h-1zM465 315h1v1h-1zM465 319h1v1h-1zM465 320h1v1h-1zM465 321h1v1h-1zM465 322h1v1h-1zM465 323h1v1h-1zM465 324h1v1h-1zM465 328h1v1h-1zM465 330h1v1h-1zM465 333h1v1h-1zM465 337h1v1h-1zM466 294h1v1h-1zM466 318h1v1h-1zM466 320h1v1h-1zM466 323h1v1h-1zM466 325h1v1h-1zM466 326h1v1h-1zM466 328h1v1h-1zM466 330h1v1h-1zM466 331h1v1h-1zM466 337h1v1h-1zM466 341h1v1h-1zM466 347h1v1h-1zM467 310h1v1h-1zM467 314h1v1h-1zM467 317h1v1h-1zM467 320h1v1h-1zM467 321h1v1h-1zM467 322h1v1h-1zM467 323h1v1h-1zM467 326h1v1h-1zM467 327h1v1h-1zM467 331h1v1h-1zM467 334h1v1h-1zM467 335h1v1h-1zM467 340h1v1h-1zM468 313h1v1h-1zM468 321h1v1h-1zM468 322h1v1h-1zM468 323h1v1h-1zM468 324h1v1h-1zM468 325h1v1h-1zM468 327h1v1h-1zM468 330h1v1h-1zM468 334h1v1h-1zM469 315h1v1h-1zM469 321h1v1h-1zM469 322h1v1h-1zM469 326h1v1h-1zM469 327h1v1h-1zM469 328h1v1h-1zM469 330h1v1h-1zM469 332h1v1h-1zM469 334h1v1h-1zM469 347h1v1h-1zM470 309h1v1h-1zM470 312h1v1h-1zM470 314h1v1h-1zM470 316h1v1h-1zM470 318h1v1h-1zM470 319h1v1h-1zM470 320h1v1h-1zM470 321h1v1h-1zM470 323h1v1h-1zM470 325h1v1h-1zM470 326h1v1h-1zM470 328h1v1h-1zM470 347h1v1h-1zM471 316h1v1h-1zM471 318h1v1h-1zM471 319h1v1h-1zM471 321h1v1h-1zM471 324h1v1h-1zM471 325h1v1h-1zM471 332h1v1h-1zM471 335h1v1h-1zM472 312h1v1h-1zM472 323h1v1h-1zM472 329h1v1h-1zM472 330h1v1h-1zM472 332h1v1h-1zM472 347h1v1h-1zM473 323h1v1h-1zM473 347h1v1h-1zM477 309h1v1h-1zM477 340h1v1h-1zM477 347h1v1h-1zM478 347h1v1h-1zM479 311h1v1h-1zM479 347h1v1h-1zM480 347h1v1h-1zM481 266h1v1h-1zM481 347h1v1h-1zM482 287h1v1h-1zM482 347h1v1h-1zM483 313h1v1h-1zM484 286h1v1h-1zM484 290h1v1h-1zM484 321h1v1h-1zM485 278h1v1h-1zM486 273h1v1h-1zM487 285h1v1h-1zM487 308h1v1h-1zM487 320h1v1h-1zM488 288h1v1h-1zM488 332h1v1h-1zM490 288h1v1h-1zM491 276h1v1h-1zM492 293h1v1h-1zM493 269h1v1h-1zM493 289h1v1h-1zM494 268h1v1h-1zM498 282h1v1h-1zM499 274h1v1h-1zM499 286h1v1h-1zM499 289h1v1h-1zM499 291h1v1h-1zM499 294h1v1h-1zM501 289h1v1h-1z" fill="#7a7a7a"/>
<line x1="471.60" y1="263.30" x2="471.60" y2="348.10" stroke="#444" stroke-width="1" />
<line x1="374.00" y1="308.50" x2="512.40" y2="308.50" stroke="#444" stroke-width="1" />
<line x1="374.00" y1="348.10" x2="512.40" y2="348.10" stroke="#666" stroke-width="1" />
<line x1="374.00" y1="263.30" x2="512.40" y2="263.30" stroke="#3a3a3a" stroke-width="1.4" />
<line x1="512.40" y1="263.30" x2="512.40" y2="348.10" stroke="#3a3a3a" stroke-width="1.4" />
<line x1="374.00" y1="262.60" x2="374.00" y2="348.60" stroke="#000" stroke-width="1.5" />
<line x1="371.00" y1="348.10" x2="374.00" y2="348.10" stroke="#000" stroke-width="1" />
<line x1="374.00" y1="348.10" x2="374.00" y2="351.60" stroke="#000" stroke-width="1" />
<line x1="372.40" y1="341.72" x2="374.00" y2="341.72" stroke="#000" stroke-width="0.8" />
<line x1="384.42" y1="348.10" x2="384.42" y2="349.70" stroke="#000" stroke-width="0.8" />
<line x1="372.40" y1="337.99" x2="374.00" y2="337.99" stroke="#000" stroke-width="0.8" />
<line x1="390.51" y1="348.10" x2="390.51" y2="349.70" stroke="#000" stroke-width="0.8" />
<line x1="372.40" y1="335.34" x2="374.00" y2="335.34" stroke="#000" stroke-width="0.8" />
<line x1="394.83" y1="348.10" x2="394.83" y2="349.70" stroke="#000" stroke-width="0.8" />
<line x1="372.40" y1="333.28" x2="374.00" y2="333.28" stroke="#000" stroke-width="0.8" />
<line x1="398.18" y1="348.10" x2="398.18" y2="349.70" stroke="#000" stroke-width="0.8" />
<line x1="372.40" y1="331.60" x2="374.00" y2="331.60" stroke="#000" stroke-width="0.8" />
<line x1="400.92" y1="348.10" x2="400.92" y2="349.70" stroke="#000" stroke-width="0.8" />
<line x1="372.40" y1="330.18" x2="374.00" y2="330.18" stroke="#000" stroke-width="0.8" />
<line x1="403.24" y1="348.10" x2="403.24" y2="349.70" stroke="#000" stroke-width="0.8" />
<line x1="372.40" y1="328.95" x2="374.00" y2="328.95" stroke="#000" stroke-width="0.8" />
<line x1="405.25" y1="348.10" x2="405.25" y2="349.70" stroke="#000" stroke-width="0.8" />
<line x1="372.40" y1="327.87" x2="374.00" y2="327.87" stroke="#000" stroke-width="0.8" />
<line x1="407.02" y1="348.10" x2="407.02" y2="349.70" stroke="#000" stroke-width="0.8" />
<line x1="371.00" y1="326.90" x2="374.00" y2="326.90" stroke="#000" stroke-width="1" />
<line x1="408.60" y1="348.10" x2="408.60" y2="351.60" stroke="#000" stroke-width="1" />
<line x1="372.40" y1="320.52" x2="374.00" y2="320.52" stroke="#000" stroke-width="0.8" />
<line x1="419.02" y1="348.10" x2="419.02" y2="349.70" stroke="#000" stroke-width="0.8" />
<line x1="372.40" y1="316.79" x2="374.00" y2="316.79" stroke="#000" stroke-width="0.8" />
<line x1="425.11" y1="348.10" x2="425.11" y2="349.70" stroke="#000" stroke-width="0.8" />
<line x1="372.40" y1="314.14" x2="374.00" y2="314.14" stroke="#000" stroke-width="0.8" />
<line x1="429.43" y1="348.10" x2="429.43" y2="349.70" stroke="#000" stroke-width="0.8" />
<line x1="372.40" y1="312.08" x2="374.00" y2="312.08" stroke="#000" stroke-width="0.8" />
<line x1="432.78" y1="348.10" x2="432.78" y2="349.70" stroke="#000" stroke-width="0.8" />
<line x1="372.40" y1="310.40" x2="374.00" y2="310.40" stroke="#000" stroke-width="0.8" />
<line x1="435.52" y1="348.10" x2="435.52" y2="349.70" stroke="#000" stroke-width="0.8" />
<line x1="372.40" y1="308.98" x2="374.00" y2="308.98" stroke="#000" stroke-width="0.8" />
<line x1="437.84" y1="348.10" x2="437.84" y2="349.70" stroke="#000" stroke-width="0.8" />
<line x1="372.40" y1="307.75" x2="374.00" y2="307.75" stroke="#000" stroke-width="0.8" />
<line x1="439.85" y1="348.10" x2="439.85" y2="349.70" stroke="#000" stroke-width="0.8" />
<line x1="372.40" y1="306.67" x2="374.00" y2="306.67" stroke="#000" stroke-width="0.8" />
<line x1="441.62" y1="348.10" x2="441.62" y2="349.70" stroke="#000" stroke-width="0.8" />
<line x1="371.00" y1="305.70" x2="374.00" y2="305.70" stroke="#000" stroke-width="1" />
<line x1="443.20" y1="348.10" x2="443.20" y2="351.60" stroke="#000" stroke-width="1" />
<line x1="372.40" y1="299.32" x2="374.00" y2="299.32" stroke="#000" stroke-width="0.8" />
<line x1="453.62" y1="348.10" x2="453.62" y2="349.70" stroke="#000" stroke-width="0.8" />
<line x1="372.40" y1="295.59" x2="374.00" y2="295.59" stroke="#000" stroke-width="0.8" />
<line x1="459.71" y1="348.10" x2="459.71" y2="349.70" stroke="#000" stroke-width="0.8" />
<line x1="372.40" y1="292.94" x2="374.00" y2="292.94" stroke="#000" stroke-width="0.8" />
<line x1="464.03" y1="348.10" x2="464.03" y2="349.70" stroke="#000" stroke-width="0.8" />
<line x1="372.40" y1="290.88" x2="374.00" y2="290.88" stroke="#000" stroke-width="0.8" />
<line x1="467.38" y1="348.10" x2="467.38" y2="349.70" stroke="#000" stroke-width="0.8" />
<line x1="372.40" y1="289.20" x2="374.00" y2="289.20" stroke="#000" stroke-width="0.8" />
<line x1="470.12" y1="348.10" x2="470.12" y2="349.70" stroke="#000" stroke-width="0.8" />
<line x1="372.40" y1="287.78" x2="374.00" y2="287.78" stroke="#000" stroke-width="0.8" />
<line x1="472.44" y1="348.10" x2="472.44" y2="349.70" stroke="#000" stroke-width="0.8" />
<line x1="372.40" y1="286.55" x2="374.00" y2="286.55" stroke="#000" stroke-width="0.8" />
<line x1="474.45" y1="348.10" x2="474.45" y2="349.70" stroke="#000" stroke-width="0.8" />
<line x1="372.40" y1="285.47" x2="374.00" y2="285.47" stroke="#000" stroke-width="0.8" />
<line x1="476.22" y1="348.10" x2="476.22" y2="349.70" stroke="#000" stroke-width="0.8" />
<line x1="371.00" y1="284.50" x2="374.00" y2="284.50" stroke="#000" stroke-width="1" />
<line x1="477.80" y1="348.10" x2="477.80" y2="351.60" stroke="#000" stroke-width="1" />
<line x1="372.40" y1="278.12" x2="374.00" y2="278.12" stroke="#000" stroke-width="0.8" />
<line x1="488.22" y1="348.10" x2="488.22" y2="349.70" stroke="#000" stroke-width="0.8" />
<line x1="372.40" y1="274.39" x2="374.00" y2="274.39" stroke="#000" stroke-width="0.8" />
<line x1="494.31" y1="348.10" x2="494.31" y2="349.70" stroke="#000" stroke-width="0.8" />
<line x1="372.40" y1="271.74" x2="374.00" y2="271.74" stroke="#000" stroke-width="0.8" />
<line x1="498.63" y1="348.10" x2="498.63" y2="349.70" stroke="#000" stroke-width="0.8" />
<line x1="372.40" y1="269.68" x2="374.00" y2="269.68" stroke="#000" stroke-width="0.8" />
<line x1="501.98" y1="348.10" x2="501.98" y2="349.70" stroke="#000" stroke-width="0.8" />
<line x1="372.40" y1="268.00" x2="374.00" y2="268.00" stroke="#000" stroke-width="0.8" />
<line x1="504.72" y1="348.10" x2="504.72" y2="349.70" stroke="#000" stroke-width="0.8" />
<line x1="372.40" y1="266.58" x2="374.00" y2="266.58" stroke="#000" stroke-width="0.8" />
<line x1="507.04" y1="348.10" x2="507.04" y2="349.70" stroke="#000" stroke-width="0.8" />
<line x1="372.40" y1="265.35" x2="374.00" y2="265.35" stroke="#000" stroke-width="0.8" />
<line x1="509.05" y1="348.10" x2="509.05" y2="349.70" stroke="#000" stroke-width="0.8" />
<line x1="372.40" y1="264.27" x2="374.00" y2="264.27" stroke="#000" stroke-width="0.8" />
<line x1="510.82" y1="348.10" x2="510.82" y2="349.70" stroke="#000" stroke-width="0.8" />
<line x1="371.00" y1="263.30" x2="374.00" y2="263.30" stroke="#000" stroke-width="1" />
<line x1="512.40" y1="348.10" x2="512.40" y2="351.60" stroke="#000" stroke-width="1" />
<text transform="translate(368.90,347.35) rotate(-90)" font-size="9.2" font-weight="bold" text-anchor="middle">10<tspan font-size="7" dy="-5.6">0</tspan></text>
<text transform="translate(368.90,328.45) rotate(-90)" font-size="9.2" font-weight="bold" text-anchor="middle">10<tspan font-size="7" dy="-5.6">1</tspan></text>
<text transform="translate(368.90,306.50) rotate(-90)" font-size="9.2" font-weight="bold" text-anchor="middle">10<tspan font-size="7" dy="-5.6">2</tspan></text>
<text transform="translate(368.90,285.75) rotate(-90)" font-size="9.2" font-weight="bold" text-anchor="middle">10<tspan font-size="7" dy="-5.6">3</tspan></text>
<text transform="translate(368.90,266.55) rotate(-90)" font-size="9.2" font-weight="bold" text-anchor="middle">10<tspan font-size="7" dy="-5.6">4</tspan></text>
<text x="373.50" y="361.20" font-size="9.3" font-weight="bold" text-anchor="middle">10<tspan font-size="7" dy="-6.0">0</tspan></text>
<text x="408.10" y="361.20" font-size="9.3" font-weight="bold" text-anchor="middle">10<tspan font-size="7" dy="-6.0">1</tspan></text>
<text x="442.70" y="361.20" font-size="9.3" font-weight="bold" text-anchor="middle">10<tspan font-size="7" dy="-6.0">2</tspan></text>
<text x="477.30" y="361.20" font-size="9.3" font-weight="bold" text-anchor="middle">10<tspan font-size="7" dy="-6.0">3</tspan></text>
<text x="511.90" y="361.20" font-size="9.3" font-weight="bold" text-anchor="middle">10<tspan font-size="7" dy="-6.0">4</tspan></text>
<text transform="translate(354.00,306.50) rotate(-90)" font-size="8.75" font-weight="bold" text-anchor="middle">DAPI/Dead cells</text>
<text x="442.00" y="372.10" font-size="8.66" font-weight="bold" font-style="normal" text-anchor="middle" fill="#000" >Annexin-FITC</text>
<text x="437.90" y="304.20" font-size="13" font-weight="normal" font-style="normal" text-anchor="start" fill="#000" >0.2</text>
<text x="479.40" y="304.20" font-size="13" font-weight="normal" font-style="normal" text-anchor="start" fill="#000" >2.4</text>
<text x="437.10" y="320.10" font-size="13" font-weight="normal" font-style="normal" text-anchor="start" fill="#000" >95.3</text>
<text x="479.40" y="320.10" font-size="13" font-weight="normal" font-style="normal" text-anchor="start" fill="#000" >2.1</text>
</svg>
</body></html>
